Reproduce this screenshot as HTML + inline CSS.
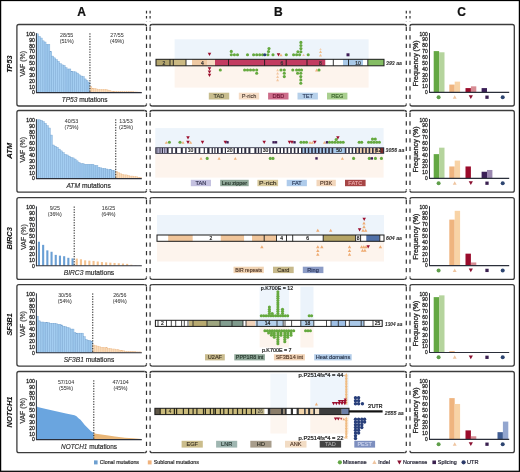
<!DOCTYPE html><html><head><meta charset="utf-8"><title>Figure</title><style>html,body{margin:0;padding:0;background:#fff;width:520px;height:472px;overflow:hidden;}body{font-family:"Liberation Sans", sans-serif;position:relative;}</style></head><body><svg width="520" height="472" viewBox="0 0 520 472" style="position:absolute;left:0;top:0;font-family:'Liberation Sans', sans-serif;filter:blur(0px)">
<rect x="0" y="0" width="520" height="472" fill="#ffffff"/>
<text x="81.5" y="15.6" font-size="12" text-anchor="middle" fill="#111" stroke="#111" stroke-width="0.22" font-weight="bold">A</text>
<text x="278.4" y="15.6" font-size="12" text-anchor="middle" fill="#111" stroke="#111" stroke-width="0.22" font-weight="bold">B</text>
<text x="461.6" y="15.6" font-size="12" text-anchor="middle" fill="#111" stroke="#111" stroke-width="0.22" font-weight="bold">C</text>
<path d="M144.5 24.5L18.9 24.5Q16.9 24.5 16.9 26.5L16.9 104.0Q16.9 106.0 18.9 106.0L144.5 106.0" fill="none" stroke="#3c3c3c" stroke-width="1.3"/>
<path d="M144.5 24.5Q146.5 24.5 146.5 26.3" fill="none" stroke="#3c3c3c" stroke-width="1.3"/>
<path d="M144.5 106.0Q146.5 106.0 146.5 104.2" fill="none" stroke="#3c3c3c" stroke-width="1.3"/>
<path d="M152.1 24.5Q150.1 24.5 150.1 26.3" fill="none" stroke="#3c3c3c" stroke-width="1.3"/>
<path d="M152.1 106.0Q150.1 106.0 150.1 104.2" fill="none" stroke="#3c3c3c" stroke-width="1.3"/>
<path d="M404.3 24.5Q406.3 24.5 406.3 26.3" fill="none" stroke="#3c3c3c" stroke-width="1.3"/>
<path d="M404.3 106.0Q406.3 106.0 406.3 104.2" fill="none" stroke="#3c3c3c" stroke-width="1.3"/>
<path d="M412 24.5Q410 24.5 410 26.3" fill="none" stroke="#3c3c3c" stroke-width="1.3"/>
<path d="M412 106.0Q410 106.0 410 104.2" fill="none" stroke="#3c3c3c" stroke-width="1.3"/>
<line x1="152.1" y1="24.5" x2="404.3" y2="24.5" stroke="#3c3c3c" stroke-width="1.3"/>
<line x1="152.1" y1="106" x2="404.3" y2="106" stroke="#3c3c3c" stroke-width="1.3"/>
<path d="M412.0 24.5L512.3 24.5Q514.3 24.5 514.3 26.5L514.3 104.0Q514.3 106.0 512.3 106.0L412.0 106.0" fill="none" stroke="#3c3c3c" stroke-width="1.3"/>
<path d="M144.5 110.5L18.9 110.5Q16.9 110.5 16.9 112.5L16.9 190.2Q16.9 192.2 18.9 192.2L144.5 192.2" fill="none" stroke="#3c3c3c" stroke-width="1.3"/>
<path d="M144.5 110.5Q146.5 110.5 146.5 112.3" fill="none" stroke="#3c3c3c" stroke-width="1.3"/>
<path d="M144.5 192.2Q146.5 192.2 146.5 190.39999999999998" fill="none" stroke="#3c3c3c" stroke-width="1.3"/>
<path d="M152.1 110.5Q150.1 110.5 150.1 112.3" fill="none" stroke="#3c3c3c" stroke-width="1.3"/>
<path d="M152.1 192.2Q150.1 192.2 150.1 190.39999999999998" fill="none" stroke="#3c3c3c" stroke-width="1.3"/>
<path d="M404.3 110.5Q406.3 110.5 406.3 112.3" fill="none" stroke="#3c3c3c" stroke-width="1.3"/>
<path d="M404.3 192.2Q406.3 192.2 406.3 190.39999999999998" fill="none" stroke="#3c3c3c" stroke-width="1.3"/>
<path d="M412 110.5Q410 110.5 410 112.3" fill="none" stroke="#3c3c3c" stroke-width="1.3"/>
<path d="M412 192.2Q410 192.2 410 190.39999999999998" fill="none" stroke="#3c3c3c" stroke-width="1.3"/>
<line x1="152.1" y1="110.5" x2="404.3" y2="110.5" stroke="#3c3c3c" stroke-width="1.3"/>
<line x1="152.1" y1="192.2" x2="404.3" y2="192.2" stroke="#3c3c3c" stroke-width="1.3"/>
<path d="M412.0 110.5L512.3 110.5Q514.3 110.5 514.3 112.5L514.3 190.2Q514.3 192.2 512.3 192.2L412.0 192.2" fill="none" stroke="#3c3c3c" stroke-width="1.3"/>
<path d="M144.5 197.7L18.9 197.7Q16.9 197.7 16.9 199.7L16.9 277.4Q16.9 279.4 18.9 279.4L144.5 279.4" fill="none" stroke="#3c3c3c" stroke-width="1.3"/>
<path d="M144.5 197.7Q146.5 197.7 146.5 199.5" fill="none" stroke="#3c3c3c" stroke-width="1.3"/>
<path d="M144.5 279.4Q146.5 279.4 146.5 277.59999999999997" fill="none" stroke="#3c3c3c" stroke-width="1.3"/>
<path d="M152.1 197.7Q150.1 197.7 150.1 199.5" fill="none" stroke="#3c3c3c" stroke-width="1.3"/>
<path d="M152.1 279.4Q150.1 279.4 150.1 277.59999999999997" fill="none" stroke="#3c3c3c" stroke-width="1.3"/>
<path d="M404.3 197.7Q406.3 197.7 406.3 199.5" fill="none" stroke="#3c3c3c" stroke-width="1.3"/>
<path d="M404.3 279.4Q406.3 279.4 406.3 277.59999999999997" fill="none" stroke="#3c3c3c" stroke-width="1.3"/>
<path d="M412 197.7Q410 197.7 410 199.5" fill="none" stroke="#3c3c3c" stroke-width="1.3"/>
<path d="M412 279.4Q410 279.4 410 277.59999999999997" fill="none" stroke="#3c3c3c" stroke-width="1.3"/>
<line x1="152.1" y1="197.7" x2="404.3" y2="197.7" stroke="#3c3c3c" stroke-width="1.3"/>
<line x1="152.1" y1="279.4" x2="404.3" y2="279.4" stroke="#3c3c3c" stroke-width="1.3"/>
<path d="M412.0 197.7L512.3 197.7Q514.3 197.7 514.3 199.7L514.3 277.4Q514.3 279.4 512.3 279.4L412.0 279.4" fill="none" stroke="#3c3c3c" stroke-width="1.3"/>
<path d="M144.5 284.6L18.9 284.6Q16.9 284.6 16.9 286.6L16.9 364.1Q16.9 366.1 18.9 366.1L144.5 366.1" fill="none" stroke="#3c3c3c" stroke-width="1.3"/>
<path d="M144.5 284.6Q146.5 284.6 146.5 286.40000000000003" fill="none" stroke="#3c3c3c" stroke-width="1.3"/>
<path d="M144.5 366.1Q146.5 366.1 146.5 364.3" fill="none" stroke="#3c3c3c" stroke-width="1.3"/>
<path d="M152.1 284.6Q150.1 284.6 150.1 286.40000000000003" fill="none" stroke="#3c3c3c" stroke-width="1.3"/>
<path d="M152.1 366.1Q150.1 366.1 150.1 364.3" fill="none" stroke="#3c3c3c" stroke-width="1.3"/>
<path d="M404.3 284.6Q406.3 284.6 406.3 286.40000000000003" fill="none" stroke="#3c3c3c" stroke-width="1.3"/>
<path d="M404.3 366.1Q406.3 366.1 406.3 364.3" fill="none" stroke="#3c3c3c" stroke-width="1.3"/>
<path d="M412 284.6Q410 284.6 410 286.40000000000003" fill="none" stroke="#3c3c3c" stroke-width="1.3"/>
<path d="M412 366.1Q410 366.1 410 364.3" fill="none" stroke="#3c3c3c" stroke-width="1.3"/>
<line x1="152.1" y1="284.6" x2="404.3" y2="284.6" stroke="#3c3c3c" stroke-width="1.3"/>
<line x1="152.1" y1="366.1" x2="404.3" y2="366.1" stroke="#3c3c3c" stroke-width="1.3"/>
<path d="M412.0 284.6L512.3 284.6Q514.3 284.6 514.3 286.6L514.3 364.1Q514.3 366.1 512.3 366.1L412.0 366.1" fill="none" stroke="#3c3c3c" stroke-width="1.3"/>
<path d="M144.5 371.5L18.9 371.5Q16.9 371.5 16.9 373.5L16.9 450.7Q16.9 452.7 18.9 452.7L144.5 452.7" fill="none" stroke="#3c3c3c" stroke-width="1.3"/>
<path d="M144.5 371.5Q146.5 371.5 146.5 373.3" fill="none" stroke="#3c3c3c" stroke-width="1.3"/>
<path d="M144.5 452.7Q146.5 452.7 146.5 450.9" fill="none" stroke="#3c3c3c" stroke-width="1.3"/>
<path d="M152.1 371.5Q150.1 371.5 150.1 373.3" fill="none" stroke="#3c3c3c" stroke-width="1.3"/>
<path d="M152.1 452.7Q150.1 452.7 150.1 450.9" fill="none" stroke="#3c3c3c" stroke-width="1.3"/>
<path d="M404.3 371.5Q406.3 371.5 406.3 373.3" fill="none" stroke="#3c3c3c" stroke-width="1.3"/>
<path d="M404.3 452.7Q406.3 452.7 406.3 450.9" fill="none" stroke="#3c3c3c" stroke-width="1.3"/>
<path d="M412 371.5Q410 371.5 410 373.3" fill="none" stroke="#3c3c3c" stroke-width="1.3"/>
<path d="M412 452.7Q410 452.7 410 450.9" fill="none" stroke="#3c3c3c" stroke-width="1.3"/>
<line x1="152.1" y1="371.5" x2="404.3" y2="371.5" stroke="#3c3c3c" stroke-width="1.3"/>
<line x1="152.1" y1="452.7" x2="404.3" y2="452.7" stroke="#3c3c3c" stroke-width="1.3"/>
<path d="M412.0 371.5L512.3 371.5Q514.3 371.5 514.3 373.5L514.3 450.7Q514.3 452.7 512.3 452.7L412.0 452.7" fill="none" stroke="#3c3c3c" stroke-width="1.3"/>
<line x1="146.5" y1="10.8" x2="146.5" y2="21.5" stroke="#333" stroke-width="1.2" stroke-dasharray="2.6 2.6"/>
<line x1="146.5" y1="26.7" x2="146.5" y2="103.8" stroke="#333" stroke-width="1.2" stroke-dasharray="4.4 4.1"/>
<line x1="146.5" y1="112.7" x2="146.5" y2="190" stroke="#333" stroke-width="1.2" stroke-dasharray="4.4 4.1"/>
<line x1="146.5" y1="199.9" x2="146.5" y2="277.2" stroke="#333" stroke-width="1.2" stroke-dasharray="4.4 4.1"/>
<line x1="146.5" y1="286.8" x2="146.5" y2="363.9" stroke="#333" stroke-width="1.2" stroke-dasharray="4.4 4.1"/>
<line x1="146.5" y1="373.7" x2="146.5" y2="450.5" stroke="#333" stroke-width="1.2" stroke-dasharray="4.4 4.1"/>
<line x1="150.1" y1="10.8" x2="150.1" y2="21.5" stroke="#333" stroke-width="1.2" stroke-dasharray="2.6 2.6"/>
<line x1="150.1" y1="26.7" x2="150.1" y2="103.8" stroke="#333" stroke-width="1.2" stroke-dasharray="4.4 4.1"/>
<line x1="150.1" y1="112.7" x2="150.1" y2="190" stroke="#333" stroke-width="1.2" stroke-dasharray="4.4 4.1"/>
<line x1="150.1" y1="199.9" x2="150.1" y2="277.2" stroke="#333" stroke-width="1.2" stroke-dasharray="4.4 4.1"/>
<line x1="150.1" y1="286.8" x2="150.1" y2="363.9" stroke="#333" stroke-width="1.2" stroke-dasharray="4.4 4.1"/>
<line x1="150.1" y1="373.7" x2="150.1" y2="450.5" stroke="#333" stroke-width="1.2" stroke-dasharray="4.4 4.1"/>
<line x1="406.3" y1="10.8" x2="406.3" y2="21.5" stroke="#333" stroke-width="1.2" stroke-dasharray="2.6 2.6"/>
<line x1="406.3" y1="26.7" x2="406.3" y2="103.8" stroke="#333" stroke-width="1.2" stroke-dasharray="4.4 4.1"/>
<line x1="406.3" y1="112.7" x2="406.3" y2="190" stroke="#333" stroke-width="1.2" stroke-dasharray="4.4 4.1"/>
<line x1="406.3" y1="199.9" x2="406.3" y2="277.2" stroke="#333" stroke-width="1.2" stroke-dasharray="4.4 4.1"/>
<line x1="406.3" y1="286.8" x2="406.3" y2="363.9" stroke="#333" stroke-width="1.2" stroke-dasharray="4.4 4.1"/>
<line x1="406.3" y1="373.7" x2="406.3" y2="450.5" stroke="#333" stroke-width="1.2" stroke-dasharray="4.4 4.1"/>
<line x1="410" y1="10.8" x2="410" y2="21.5" stroke="#333" stroke-width="1.2" stroke-dasharray="2.6 2.6"/>
<line x1="410" y1="26.7" x2="410" y2="103.8" stroke="#333" stroke-width="1.2" stroke-dasharray="4.4 4.1"/>
<line x1="410" y1="112.7" x2="410" y2="190" stroke="#333" stroke-width="1.2" stroke-dasharray="4.4 4.1"/>
<line x1="410" y1="199.9" x2="410" y2="277.2" stroke="#333" stroke-width="1.2" stroke-dasharray="4.4 4.1"/>
<line x1="410" y1="286.8" x2="410" y2="363.9" stroke="#333" stroke-width="1.2" stroke-dasharray="4.4 4.1"/>
<line x1="410" y1="373.7" x2="410" y2="450.5" stroke="#333" stroke-width="1.2" stroke-dasharray="4.4 4.1"/>
<text x="12" y="64.2" font-size="7.4" text-anchor="middle" fill="#111" stroke="#111" stroke-width="0.1" font-weight="bold" font-style="italic" textLength="17.2" lengthAdjust="spacingAndGlyphs" transform="rotate(-90 12 64.2)">TP53</text>
<text x="25.5" y="63.8" font-size="7" text-anchor="middle" fill="#333" stroke="#333" stroke-width="0.22" textLength="25.5" lengthAdjust="spacingAndGlyphs" transform="rotate(-90 25.5 63.8)">VAF (%)</text>
<text x="34.8" y="94.4" font-size="5.6" text-anchor="end" fill="#1e1e1e" stroke="#1e1e1e" stroke-width="0.28" textLength="2.8" lengthAdjust="spacingAndGlyphs">0</text>
<text x="34.8" y="88.54" font-size="5.6" text-anchor="end" fill="#1e1e1e" stroke="#1e1e1e" stroke-width="0.28" textLength="5.6" lengthAdjust="spacingAndGlyphs">10</text>
<text x="34.8" y="82.68" font-size="5.6" text-anchor="end" fill="#1e1e1e" stroke="#1e1e1e" stroke-width="0.28" textLength="5.6" lengthAdjust="spacingAndGlyphs">20</text>
<text x="34.8" y="76.82" font-size="5.6" text-anchor="end" fill="#1e1e1e" stroke="#1e1e1e" stroke-width="0.28" textLength="5.6" lengthAdjust="spacingAndGlyphs">30</text>
<text x="34.8" y="70.96" font-size="5.6" text-anchor="end" fill="#1e1e1e" stroke="#1e1e1e" stroke-width="0.28" textLength="5.6" lengthAdjust="spacingAndGlyphs">40</text>
<text x="34.8" y="65.1" font-size="5.6" text-anchor="end" fill="#1e1e1e" stroke="#1e1e1e" stroke-width="0.28" textLength="5.6" lengthAdjust="spacingAndGlyphs">50</text>
<text x="34.8" y="59.24" font-size="5.6" text-anchor="end" fill="#1e1e1e" stroke="#1e1e1e" stroke-width="0.28" textLength="5.6" lengthAdjust="spacingAndGlyphs">60</text>
<text x="34.8" y="53.38" font-size="5.6" text-anchor="end" fill="#1e1e1e" stroke="#1e1e1e" stroke-width="0.28" textLength="5.6" lengthAdjust="spacingAndGlyphs">70</text>
<text x="34.8" y="47.52" font-size="5.6" text-anchor="end" fill="#1e1e1e" stroke="#1e1e1e" stroke-width="0.28" textLength="5.6" lengthAdjust="spacingAndGlyphs">80</text>
<text x="34.8" y="41.66" font-size="5.6" text-anchor="end" fill="#1e1e1e" stroke="#1e1e1e" stroke-width="0.28" textLength="5.6" lengthAdjust="spacingAndGlyphs">90</text>
<text x="34.8" y="35.8" font-size="5.6" text-anchor="end" fill="#1e1e1e" stroke="#1e1e1e" stroke-width="0.28" textLength="8.5" lengthAdjust="spacingAndGlyphs">100</text>
<rect x="36.5" y="33.8" width="1.91" height="58.6" fill="#a3cdf1" stroke="#76a3cf" stroke-width="0.4"/>
<rect x="38.41" y="36.44" width="1.91" height="55.96" fill="#a3cdf1" stroke="#76a3cf" stroke-width="0.4"/>
<rect x="40.32" y="38.02" width="1.91" height="54.38" fill="#a3cdf1" stroke="#76a3cf" stroke-width="0.4"/>
<rect x="42.23" y="40.83" width="1.91" height="51.57" fill="#a3cdf1" stroke="#76a3cf" stroke-width="0.4"/>
<rect x="44.14" y="42" width="1.91" height="50.4" fill="#a3cdf1" stroke="#76a3cf" stroke-width="0.4"/>
<rect x="46.05" y="44.35" width="1.91" height="48.05" fill="#a3cdf1" stroke="#76a3cf" stroke-width="0.4"/>
<rect x="47.95" y="44.35" width="1.91" height="48.05" fill="#a3cdf1" stroke="#76a3cf" stroke-width="0.4"/>
<rect x="49.86" y="51.38" width="1.91" height="41.02" fill="#a3cdf1" stroke="#76a3cf" stroke-width="0.4"/>
<rect x="51.77" y="56.07" width="1.91" height="36.33" fill="#a3cdf1" stroke="#76a3cf" stroke-width="0.4"/>
<rect x="53.68" y="57.83" width="1.91" height="34.57" fill="#a3cdf1" stroke="#76a3cf" stroke-width="0.4"/>
<rect x="55.59" y="59.58" width="1.91" height="32.82" fill="#a3cdf1" stroke="#76a3cf" stroke-width="0.4"/>
<rect x="57.5" y="61.34" width="1.91" height="31.06" fill="#a3cdf1" stroke="#76a3cf" stroke-width="0.4"/>
<rect x="59.41" y="63.69" width="1.91" height="28.71" fill="#a3cdf1" stroke="#76a3cf" stroke-width="0.4"/>
<rect x="61.32" y="64.86" width="1.91" height="27.54" fill="#a3cdf1" stroke="#76a3cf" stroke-width="0.4"/>
<rect x="63.23" y="65.44" width="1.91" height="26.96" fill="#a3cdf1" stroke="#76a3cf" stroke-width="0.4"/>
<rect x="65.14" y="67.79" width="1.91" height="24.61" fill="#a3cdf1" stroke="#76a3cf" stroke-width="0.4"/>
<rect x="67.05" y="68.96" width="1.91" height="23.44" fill="#a3cdf1" stroke="#76a3cf" stroke-width="0.4"/>
<rect x="68.95" y="68.96" width="1.91" height="23.44" fill="#a3cdf1" stroke="#76a3cf" stroke-width="0.4"/>
<rect x="70.86" y="71.3" width="1.91" height="21.1" fill="#a3cdf1" stroke="#76a3cf" stroke-width="0.4"/>
<rect x="72.77" y="71.6" width="1.91" height="20.8" fill="#a3cdf1" stroke="#76a3cf" stroke-width="0.4"/>
<rect x="74.68" y="71.89" width="1.91" height="20.51" fill="#a3cdf1" stroke="#76a3cf" stroke-width="0.4"/>
<rect x="76.59" y="73.06" width="1.91" height="19.34" fill="#a3cdf1" stroke="#76a3cf" stroke-width="0.4"/>
<rect x="78.5" y="74.82" width="1.91" height="17.58" fill="#a3cdf1" stroke="#76a3cf" stroke-width="0.4"/>
<rect x="80.41" y="75.99" width="1.91" height="16.41" fill="#a3cdf1" stroke="#76a3cf" stroke-width="0.4"/>
<rect x="82.32" y="76.58" width="1.91" height="15.82" fill="#a3cdf1" stroke="#76a3cf" stroke-width="0.4"/>
<rect x="84.23" y="78.92" width="1.91" height="13.48" fill="#a3cdf1" stroke="#76a3cf" stroke-width="0.4"/>
<rect x="86.14" y="80.68" width="1.91" height="11.72" fill="#a3cdf1" stroke="#76a3cf" stroke-width="0.4"/>
<rect x="88.05" y="82.44" width="1.91" height="9.96" fill="#a3cdf1" stroke="#76a3cf" stroke-width="0.4"/>
<rect x="89.95" y="86.54" width="1.91" height="5.86" fill="#f9dcbb" stroke="#ecb887" stroke-width="0.35"/>
<rect x="91.86" y="88.3" width="1.91" height="4.1" fill="#f9dcbb" stroke="#ecb887" stroke-width="0.35"/>
<rect x="93.77" y="88.3" width="1.91" height="4.1" fill="#f9dcbb" stroke="#ecb887" stroke-width="0.35"/>
<rect x="95.68" y="88.88" width="1.91" height="3.52" fill="#f9dcbb" stroke="#ecb887" stroke-width="0.35"/>
<rect x="97.59" y="89.47" width="1.91" height="2.93" fill="#f9dcbb" stroke="#ecb887" stroke-width="0.35"/>
<rect x="99.5" y="89.47" width="1.91" height="2.93" fill="#f9dcbb" stroke="#ecb887" stroke-width="0.35"/>
<rect x="101.41" y="89.47" width="1.91" height="2.93" fill="#f9dcbb" stroke="#ecb887" stroke-width="0.35"/>
<rect x="103.32" y="89.47" width="1.91" height="2.93" fill="#f9dcbb" stroke="#ecb887" stroke-width="0.35"/>
<rect x="105.23" y="89.47" width="1.91" height="2.93" fill="#f9dcbb" stroke="#ecb887" stroke-width="0.35"/>
<rect x="107.14" y="90.06" width="1.91" height="2.34" fill="#f9dcbb" stroke="#ecb887" stroke-width="0.35"/>
<rect x="109.05" y="90.64" width="1.91" height="1.76" fill="#f9dcbb" stroke="#ecb887" stroke-width="0.35"/>
<rect x="110.95" y="91.23" width="1.91" height="1.17" fill="#f9dcbb" stroke="#ecb887" stroke-width="0.35"/>
<rect x="112.86" y="91.23" width="1.91" height="1.17" fill="#f9dcbb" stroke="#ecb887" stroke-width="0.35"/>
<rect x="114.77" y="91.23" width="1.91" height="1.17" fill="#f9dcbb" stroke="#ecb887" stroke-width="0.35"/>
<rect x="116.68" y="91.52" width="1.91" height="0.88" fill="#f9dcbb" stroke="#ecb887" stroke-width="0.35"/>
<rect x="118.59" y="91.52" width="1.91" height="0.88" fill="#f9dcbb" stroke="#ecb887" stroke-width="0.35"/>
<rect x="120.5" y="91.52" width="1.91" height="0.88" fill="#f9dcbb" stroke="#ecb887" stroke-width="0.35"/>
<rect x="122.41" y="91.7" width="1.91" height="0.7" fill="#f9dcbb" stroke="#ecb887" stroke-width="0.35"/>
<rect x="124.32" y="91.7" width="1.91" height="0.7" fill="#f9dcbb" stroke="#ecb887" stroke-width="0.35"/>
<rect x="126.23" y="91.81" width="1.91" height="0.59" fill="#f9dcbb" stroke="#ecb887" stroke-width="0.35"/>
<rect x="128.14" y="91.81" width="1.91" height="0.59" fill="#f9dcbb" stroke="#ecb887" stroke-width="0.35"/>
<rect x="130.05" y="91.81" width="1.91" height="0.59" fill="#f9dcbb" stroke="#ecb887" stroke-width="0.35"/>
<rect x="131.95" y="91.81" width="1.91" height="0.59" fill="#f9dcbb" stroke="#ecb887" stroke-width="0.35"/>
<rect x="133.86" y="91.93" width="1.91" height="0.47" fill="#f9dcbb" stroke="#ecb887" stroke-width="0.35"/>
<rect x="135.77" y="91.93" width="1.91" height="0.47" fill="#f9dcbb" stroke="#ecb887" stroke-width="0.35"/>
<rect x="137.68" y="92.05" width="1.91" height="0.35" fill="#f9dcbb" stroke="#ecb887" stroke-width="0.35"/>
<rect x="139.59" y="92.11" width="1.91" height="0.29" fill="#f9dcbb" stroke="#ecb887" stroke-width="0.35"/>
<line x1="36.4" y1="33.2" x2="36.4" y2="92.9" stroke="#2b2f3a" stroke-width="1"/>
<line x1="36" y1="92.6" x2="141.8" y2="92.6" stroke="#2b2f3a" stroke-width="1.1"/>
<line x1="89.95" y1="33.3" x2="89.95" y2="92.4" stroke="#222" stroke-width="1" stroke-dasharray="1.3 1.3"/>
<text x="66.7" y="36.8" font-size="5.3" text-anchor="middle" fill="#3a3a3a" stroke="#3a3a3a" stroke-width="0.05">28/55</text>
<text x="66.7" y="43.1" font-size="5.3" text-anchor="middle" fill="#3a3a3a" stroke="#3a3a3a" stroke-width="0.05">(51%)</text>
<text x="117" y="36.8" font-size="5.3" text-anchor="middle" fill="#3a3a3a" stroke="#3a3a3a" stroke-width="0.05">27/55</text>
<text x="117" y="43.1" font-size="5.3" text-anchor="middle" fill="#3a3a3a" stroke="#3a3a3a" stroke-width="0.05">(49%)</text>
<text x="84.6" y="101.8" font-size="7.8" text-anchor="middle" fill="#2a2a2a" stroke="#2a2a2a" stroke-width="0.2" textLength="45.8" lengthAdjust="spacingAndGlyphs"><tspan font-style="italic" stroke-width="0.15">TP53</tspan> mutations</text>
<text x="12" y="150.75" font-size="7.4" text-anchor="middle" fill="#111" stroke="#111" stroke-width="0.1" font-weight="bold" font-style="italic" textLength="16.1" lengthAdjust="spacingAndGlyphs" transform="rotate(-90 12 150.75)">ATM</text>
<text x="25.5" y="149.8" font-size="7" text-anchor="middle" fill="#333" stroke="#333" stroke-width="0.22" textLength="25.5" lengthAdjust="spacingAndGlyphs" transform="rotate(-90 25.5 149.8)">VAF (%)</text>
<text x="34.8" y="180.4" font-size="5.6" text-anchor="end" fill="#1e1e1e" stroke="#1e1e1e" stroke-width="0.28" textLength="2.8" lengthAdjust="spacingAndGlyphs">0</text>
<text x="34.8" y="174.54" font-size="5.6" text-anchor="end" fill="#1e1e1e" stroke="#1e1e1e" stroke-width="0.28" textLength="5.6" lengthAdjust="spacingAndGlyphs">10</text>
<text x="34.8" y="168.68" font-size="5.6" text-anchor="end" fill="#1e1e1e" stroke="#1e1e1e" stroke-width="0.28" textLength="5.6" lengthAdjust="spacingAndGlyphs">20</text>
<text x="34.8" y="162.82" font-size="5.6" text-anchor="end" fill="#1e1e1e" stroke="#1e1e1e" stroke-width="0.28" textLength="5.6" lengthAdjust="spacingAndGlyphs">30</text>
<text x="34.8" y="156.96" font-size="5.6" text-anchor="end" fill="#1e1e1e" stroke="#1e1e1e" stroke-width="0.28" textLength="5.6" lengthAdjust="spacingAndGlyphs">40</text>
<text x="34.8" y="151.1" font-size="5.6" text-anchor="end" fill="#1e1e1e" stroke="#1e1e1e" stroke-width="0.28" textLength="5.6" lengthAdjust="spacingAndGlyphs">50</text>
<text x="34.8" y="145.24" font-size="5.6" text-anchor="end" fill="#1e1e1e" stroke="#1e1e1e" stroke-width="0.28" textLength="5.6" lengthAdjust="spacingAndGlyphs">60</text>
<text x="34.8" y="139.38" font-size="5.6" text-anchor="end" fill="#1e1e1e" stroke="#1e1e1e" stroke-width="0.28" textLength="5.6" lengthAdjust="spacingAndGlyphs">70</text>
<text x="34.8" y="133.52" font-size="5.6" text-anchor="end" fill="#1e1e1e" stroke="#1e1e1e" stroke-width="0.28" textLength="5.6" lengthAdjust="spacingAndGlyphs">80</text>
<text x="34.8" y="127.66" font-size="5.6" text-anchor="end" fill="#1e1e1e" stroke="#1e1e1e" stroke-width="0.28" textLength="5.6" lengthAdjust="spacingAndGlyphs">90</text>
<text x="34.8" y="121.8" font-size="5.6" text-anchor="end" fill="#1e1e1e" stroke="#1e1e1e" stroke-width="0.28" textLength="8.5" lengthAdjust="spacingAndGlyphs">100</text>
<rect x="36.5" y="119.8" width="1.98" height="58.6" fill="#a3cdf1" stroke="#76a3cf" stroke-width="0.4"/>
<rect x="38.48" y="119.8" width="1.98" height="58.6" fill="#a3cdf1" stroke="#76a3cf" stroke-width="0.4"/>
<rect x="40.46" y="120.39" width="1.98" height="58.01" fill="#a3cdf1" stroke="#76a3cf" stroke-width="0.4"/>
<rect x="42.44" y="121.56" width="1.98" height="56.84" fill="#a3cdf1" stroke="#76a3cf" stroke-width="0.4"/>
<rect x="44.42" y="123.32" width="1.98" height="55.08" fill="#a3cdf1" stroke="#76a3cf" stroke-width="0.4"/>
<rect x="46.41" y="125.66" width="1.98" height="52.74" fill="#a3cdf1" stroke="#76a3cf" stroke-width="0.4"/>
<rect x="48.39" y="128" width="1.98" height="50.4" fill="#a3cdf1" stroke="#76a3cf" stroke-width="0.4"/>
<rect x="50.37" y="135.04" width="1.98" height="43.36" fill="#a3cdf1" stroke="#76a3cf" stroke-width="0.4"/>
<rect x="52.35" y="145" width="1.98" height="33.4" fill="#a3cdf1" stroke="#76a3cf" stroke-width="0.4"/>
<rect x="54.33" y="146.17" width="1.98" height="32.23" fill="#a3cdf1" stroke="#76a3cf" stroke-width="0.4"/>
<rect x="56.31" y="147.34" width="1.98" height="31.06" fill="#a3cdf1" stroke="#76a3cf" stroke-width="0.4"/>
<rect x="58.29" y="149.1" width="1.98" height="29.3" fill="#a3cdf1" stroke="#76a3cf" stroke-width="0.4"/>
<rect x="60.27" y="150.86" width="1.98" height="27.54" fill="#a3cdf1" stroke="#76a3cf" stroke-width="0.4"/>
<rect x="62.25" y="152.62" width="1.98" height="25.78" fill="#a3cdf1" stroke="#76a3cf" stroke-width="0.4"/>
<rect x="64.24" y="154.37" width="1.98" height="24.03" fill="#a3cdf1" stroke="#76a3cf" stroke-width="0.4"/>
<rect x="66.22" y="154.96" width="1.98" height="23.44" fill="#a3cdf1" stroke="#76a3cf" stroke-width="0.4"/>
<rect x="68.2" y="156.13" width="1.98" height="22.27" fill="#a3cdf1" stroke="#76a3cf" stroke-width="0.4"/>
<rect x="70.18" y="157.3" width="1.98" height="21.1" fill="#a3cdf1" stroke="#76a3cf" stroke-width="0.4"/>
<rect x="72.16" y="157.89" width="1.98" height="20.51" fill="#a3cdf1" stroke="#76a3cf" stroke-width="0.4"/>
<rect x="74.14" y="159.06" width="1.98" height="19.34" fill="#a3cdf1" stroke="#76a3cf" stroke-width="0.4"/>
<rect x="76.12" y="160.82" width="1.98" height="17.58" fill="#a3cdf1" stroke="#76a3cf" stroke-width="0.4"/>
<rect x="78.1" y="162.58" width="1.98" height="15.82" fill="#a3cdf1" stroke="#76a3cf" stroke-width="0.4"/>
<rect x="80.08" y="163.75" width="1.98" height="14.65" fill="#a3cdf1" stroke="#76a3cf" stroke-width="0.4"/>
<rect x="82.07" y="163.75" width="1.98" height="14.65" fill="#a3cdf1" stroke="#76a3cf" stroke-width="0.4"/>
<rect x="84.05" y="164.34" width="1.98" height="14.06" fill="#a3cdf1" stroke="#76a3cf" stroke-width="0.4"/>
<rect x="86.03" y="164.34" width="1.98" height="14.06" fill="#a3cdf1" stroke="#76a3cf" stroke-width="0.4"/>
<rect x="88.01" y="164.34" width="1.98" height="14.06" fill="#a3cdf1" stroke="#76a3cf" stroke-width="0.4"/>
<rect x="89.99" y="164.34" width="1.98" height="14.06" fill="#a3cdf1" stroke="#76a3cf" stroke-width="0.4"/>
<rect x="91.97" y="164.34" width="1.98" height="14.06" fill="#a3cdf1" stroke="#76a3cf" stroke-width="0.4"/>
<rect x="93.95" y="165.51" width="1.98" height="12.89" fill="#a3cdf1" stroke="#76a3cf" stroke-width="0.4"/>
<rect x="95.93" y="165.51" width="1.98" height="12.89" fill="#a3cdf1" stroke="#76a3cf" stroke-width="0.4"/>
<rect x="97.92" y="167.27" width="1.98" height="11.13" fill="#a3cdf1" stroke="#76a3cf" stroke-width="0.4"/>
<rect x="99.9" y="167.85" width="1.98" height="10.55" fill="#a3cdf1" stroke="#76a3cf" stroke-width="0.4"/>
<rect x="101.88" y="168.44" width="1.98" height="9.96" fill="#a3cdf1" stroke="#76a3cf" stroke-width="0.4"/>
<rect x="103.86" y="168.44" width="1.98" height="9.96" fill="#a3cdf1" stroke="#76a3cf" stroke-width="0.4"/>
<rect x="105.84" y="169.02" width="1.98" height="9.38" fill="#a3cdf1" stroke="#76a3cf" stroke-width="0.4"/>
<rect x="107.82" y="169.61" width="1.98" height="8.79" fill="#a3cdf1" stroke="#76a3cf" stroke-width="0.4"/>
<rect x="109.8" y="169.61" width="1.98" height="8.79" fill="#a3cdf1" stroke="#76a3cf" stroke-width="0.4"/>
<rect x="111.78" y="170.2" width="1.98" height="8.2" fill="#a3cdf1" stroke="#76a3cf" stroke-width="0.4"/>
<rect x="113.76" y="170.78" width="1.98" height="7.62" fill="#a3cdf1" stroke="#76a3cf" stroke-width="0.4"/>
<rect x="115.75" y="171.37" width="1.98" height="7.03" fill="#f9dcbb" stroke="#ecb887" stroke-width="0.35"/>
<rect x="117.73" y="172.54" width="1.98" height="5.86" fill="#f9dcbb" stroke="#ecb887" stroke-width="0.35"/>
<rect x="119.71" y="173.71" width="1.98" height="4.69" fill="#f9dcbb" stroke="#ecb887" stroke-width="0.35"/>
<rect x="121.69" y="174.3" width="1.98" height="4.1" fill="#f9dcbb" stroke="#ecb887" stroke-width="0.35"/>
<rect x="123.67" y="174.88" width="1.98" height="3.52" fill="#f9dcbb" stroke="#ecb887" stroke-width="0.35"/>
<rect x="125.65" y="174.88" width="1.98" height="3.52" fill="#f9dcbb" stroke="#ecb887" stroke-width="0.35"/>
<rect x="127.63" y="175.47" width="1.98" height="2.93" fill="#f9dcbb" stroke="#ecb887" stroke-width="0.35"/>
<rect x="129.61" y="176.06" width="1.98" height="2.34" fill="#f9dcbb" stroke="#ecb887" stroke-width="0.35"/>
<rect x="131.59" y="176.06" width="1.98" height="2.34" fill="#f9dcbb" stroke="#ecb887" stroke-width="0.35"/>
<rect x="133.58" y="176.64" width="1.98" height="1.76" fill="#f9dcbb" stroke="#ecb887" stroke-width="0.35"/>
<rect x="135.56" y="176.64" width="1.98" height="1.76" fill="#f9dcbb" stroke="#ecb887" stroke-width="0.35"/>
<rect x="137.54" y="177.23" width="1.98" height="1.17" fill="#f9dcbb" stroke="#ecb887" stroke-width="0.35"/>
<rect x="139.52" y="177.23" width="1.98" height="1.17" fill="#f9dcbb" stroke="#ecb887" stroke-width="0.35"/>
<line x1="36.4" y1="119.2" x2="36.4" y2="178.9" stroke="#2b2f3a" stroke-width="1"/>
<line x1="36" y1="178.6" x2="141.8" y2="178.6" stroke="#2b2f3a" stroke-width="1.1"/>
<line x1="115.75" y1="119.3" x2="115.75" y2="178.4" stroke="#222" stroke-width="1" stroke-dasharray="1.3 1.3"/>
<text x="71.5" y="122.8" font-size="5.3" text-anchor="middle" fill="#3a3a3a" stroke="#3a3a3a" stroke-width="0.05">40/53</text>
<text x="71.5" y="129.1" font-size="5.3" text-anchor="middle" fill="#3a3a3a" stroke="#3a3a3a" stroke-width="0.05">(75%)</text>
<text x="126" y="122.8" font-size="5.3" text-anchor="middle" fill="#3a3a3a" stroke="#3a3a3a" stroke-width="0.05">13/53</text>
<text x="126" y="129.1" font-size="5.3" text-anchor="middle" fill="#3a3a3a" stroke="#3a3a3a" stroke-width="0.05">(25%)</text>
<text x="88.65" y="187.8" font-size="7.8" text-anchor="middle" fill="#2a2a2a" stroke="#2a2a2a" stroke-width="0.2" textLength="44.5" lengthAdjust="spacingAndGlyphs"><tspan font-style="italic" stroke-width="0.15">ATM</tspan> mutations</text>
<text x="12" y="238.3" font-size="7.4" text-anchor="middle" fill="#111" stroke="#111" stroke-width="0.1" font-weight="bold" font-style="italic" textLength="22.2" lengthAdjust="spacingAndGlyphs" transform="rotate(-90 12 238.3)">BIRC3</text>
<text x="25.5" y="237" font-size="7" text-anchor="middle" fill="#333" stroke="#333" stroke-width="0.22" textLength="25.5" lengthAdjust="spacingAndGlyphs" transform="rotate(-90 25.5 237)">VAF (%)</text>
<text x="34.8" y="267.6" font-size="5.6" text-anchor="end" fill="#1e1e1e" stroke="#1e1e1e" stroke-width="0.28" textLength="2.8" lengthAdjust="spacingAndGlyphs">0</text>
<text x="34.8" y="261.74" font-size="5.6" text-anchor="end" fill="#1e1e1e" stroke="#1e1e1e" stroke-width="0.28" textLength="5.6" lengthAdjust="spacingAndGlyphs">10</text>
<text x="34.8" y="255.88" font-size="5.6" text-anchor="end" fill="#1e1e1e" stroke="#1e1e1e" stroke-width="0.28" textLength="5.6" lengthAdjust="spacingAndGlyphs">20</text>
<text x="34.8" y="250.02" font-size="5.6" text-anchor="end" fill="#1e1e1e" stroke="#1e1e1e" stroke-width="0.28" textLength="5.6" lengthAdjust="spacingAndGlyphs">30</text>
<text x="34.8" y="244.16" font-size="5.6" text-anchor="end" fill="#1e1e1e" stroke="#1e1e1e" stroke-width="0.28" textLength="5.6" lengthAdjust="spacingAndGlyphs">40</text>
<text x="34.8" y="238.3" font-size="5.6" text-anchor="end" fill="#1e1e1e" stroke="#1e1e1e" stroke-width="0.28" textLength="5.6" lengthAdjust="spacingAndGlyphs">50</text>
<text x="34.8" y="232.44" font-size="5.6" text-anchor="end" fill="#1e1e1e" stroke="#1e1e1e" stroke-width="0.28" textLength="5.6" lengthAdjust="spacingAndGlyphs">60</text>
<text x="34.8" y="226.58" font-size="5.6" text-anchor="end" fill="#1e1e1e" stroke="#1e1e1e" stroke-width="0.28" textLength="5.6" lengthAdjust="spacingAndGlyphs">70</text>
<text x="34.8" y="220.72" font-size="5.6" text-anchor="end" fill="#1e1e1e" stroke="#1e1e1e" stroke-width="0.28" textLength="5.6" lengthAdjust="spacingAndGlyphs">80</text>
<text x="34.8" y="214.86" font-size="5.6" text-anchor="end" fill="#1e1e1e" stroke="#1e1e1e" stroke-width="0.28" textLength="5.6" lengthAdjust="spacingAndGlyphs">90</text>
<text x="34.8" y="209" font-size="5.6" text-anchor="end" fill="#1e1e1e" stroke="#1e1e1e" stroke-width="0.28" textLength="8.5" lengthAdjust="spacingAndGlyphs">100</text>
<rect x="37.9" y="241.75" width="2.1" height="23.85" fill="#6a9fd4"/>
<rect x="42.1" y="244.86" width="2.1" height="20.74" fill="#6a9fd4"/>
<rect x="46.3" y="250.36" width="2.1" height="15.24" fill="#6a9fd4"/>
<rect x="50.5" y="251.77" width="2.1" height="13.83" fill="#6a9fd4"/>
<rect x="54.7" y="254.88" width="2.1" height="10.72" fill="#6a9fd4"/>
<rect x="58.9" y="255.64" width="2.1" height="9.96" fill="#6a9fd4"/>
<rect x="63.1" y="256.22" width="2.1" height="9.38" fill="#6a9fd4"/>
<rect x="67.3" y="257.81" width="2.1" height="7.79" fill="#6a9fd4"/>
<rect x="71.5" y="258.39" width="2.1" height="7.21" fill="#6a9fd4"/>
<rect x="75.7" y="258.57" width="2.1" height="7.03" fill="#f4c28f"/>
<rect x="79.9" y="259.27" width="2.1" height="6.33" fill="#f4c28f"/>
<rect x="84.1" y="260.33" width="2.1" height="5.27" fill="#f4c28f"/>
<rect x="88.3" y="260.68" width="2.1" height="4.92" fill="#f4c28f"/>
<rect x="92.5" y="260.91" width="2.1" height="4.69" fill="#f4c28f"/>
<rect x="96.7" y="261.5" width="2.1" height="4.1" fill="#f4c28f"/>
<rect x="100.9" y="262.08" width="2.1" height="3.52" fill="#f4c28f"/>
<rect x="105.1" y="262.38" width="2.1" height="3.22" fill="#f4c28f"/>
<rect x="109.3" y="262.67" width="2.1" height="2.93" fill="#f4c28f"/>
<rect x="113.5" y="262.96" width="2.1" height="2.64" fill="#f4c28f"/>
<rect x="117.7" y="263.26" width="2.1" height="2.34" fill="#f4c28f"/>
<rect x="121.9" y="263.55" width="2.1" height="2.05" fill="#f4c28f"/>
<rect x="126.1" y="263.84" width="2.1" height="1.76" fill="#f4c28f"/>
<rect x="130.3" y="264.72" width="2.1" height="0.88" fill="#f4c28f"/>
<rect x="134.5" y="265.13" width="2.1" height="0.47" fill="#f4c28f"/>
<rect x="138.7" y="265.31" width="2.1" height="0.29" fill="#f4c28f"/>
<line x1="36.4" y1="206.4" x2="36.4" y2="266.1" stroke="#2b2f3a" stroke-width="1"/>
<line x1="36" y1="265.8" x2="141.8" y2="265.8" stroke="#2b2f3a" stroke-width="1.1"/>
<line x1="74.2" y1="206.5" x2="74.2" y2="265.6" stroke="#222" stroke-width="1" stroke-dasharray="1.3 1.3"/>
<text x="54.8" y="210" font-size="5.3" text-anchor="middle" fill="#3a3a3a" stroke="#3a3a3a" stroke-width="0.05">9/25</text>
<text x="54.8" y="216.3" font-size="5.3" text-anchor="middle" fill="#3a3a3a" stroke="#3a3a3a" stroke-width="0.05">(36%)</text>
<text x="108.5" y="210" font-size="5.3" text-anchor="middle" fill="#3a3a3a" stroke="#3a3a3a" stroke-width="0.05">16/25</text>
<text x="108.5" y="216.3" font-size="5.3" text-anchor="middle" fill="#3a3a3a" stroke="#3a3a3a" stroke-width="0.05">(64%)</text>
<text x="88.95" y="275" font-size="7.8" text-anchor="middle" fill="#2a2a2a" stroke="#2a2a2a" stroke-width="0.2" textLength="50.5" lengthAdjust="spacingAndGlyphs"><tspan font-style="italic" stroke-width="0.15">BIRC3</tspan> mutations</text>
<text x="12" y="324.4" font-size="7.4" text-anchor="middle" fill="#111" stroke="#111" stroke-width="0.1" font-weight="bold" font-style="italic" textLength="22.3" lengthAdjust="spacingAndGlyphs" transform="rotate(-90 12 324.4)">SF3B1</text>
<text x="25.5" y="323.9" font-size="7" text-anchor="middle" fill="#333" stroke="#333" stroke-width="0.22" textLength="25.5" lengthAdjust="spacingAndGlyphs" transform="rotate(-90 25.5 323.9)">VAF (%)</text>
<text x="34.8" y="354.5" font-size="5.6" text-anchor="end" fill="#1e1e1e" stroke="#1e1e1e" stroke-width="0.28" textLength="2.8" lengthAdjust="spacingAndGlyphs">0</text>
<text x="34.8" y="348.64" font-size="5.6" text-anchor="end" fill="#1e1e1e" stroke="#1e1e1e" stroke-width="0.28" textLength="5.6" lengthAdjust="spacingAndGlyphs">10</text>
<text x="34.8" y="342.78" font-size="5.6" text-anchor="end" fill="#1e1e1e" stroke="#1e1e1e" stroke-width="0.28" textLength="5.6" lengthAdjust="spacingAndGlyphs">20</text>
<text x="34.8" y="336.92" font-size="5.6" text-anchor="end" fill="#1e1e1e" stroke="#1e1e1e" stroke-width="0.28" textLength="5.6" lengthAdjust="spacingAndGlyphs">30</text>
<text x="34.8" y="331.06" font-size="5.6" text-anchor="end" fill="#1e1e1e" stroke="#1e1e1e" stroke-width="0.28" textLength="5.6" lengthAdjust="spacingAndGlyphs">40</text>
<text x="34.8" y="325.2" font-size="5.6" text-anchor="end" fill="#1e1e1e" stroke="#1e1e1e" stroke-width="0.28" textLength="5.6" lengthAdjust="spacingAndGlyphs">50</text>
<text x="34.8" y="319.34" font-size="5.6" text-anchor="end" fill="#1e1e1e" stroke="#1e1e1e" stroke-width="0.28" textLength="5.6" lengthAdjust="spacingAndGlyphs">60</text>
<text x="34.8" y="313.48" font-size="5.6" text-anchor="end" fill="#1e1e1e" stroke="#1e1e1e" stroke-width="0.28" textLength="5.6" lengthAdjust="spacingAndGlyphs">70</text>
<text x="34.8" y="307.62" font-size="5.6" text-anchor="end" fill="#1e1e1e" stroke="#1e1e1e" stroke-width="0.28" textLength="5.6" lengthAdjust="spacingAndGlyphs">80</text>
<text x="34.8" y="301.76" font-size="5.6" text-anchor="end" fill="#1e1e1e" stroke="#1e1e1e" stroke-width="0.28" textLength="5.6" lengthAdjust="spacingAndGlyphs">90</text>
<text x="34.8" y="295.9" font-size="5.6" text-anchor="end" fill="#1e1e1e" stroke="#1e1e1e" stroke-width="0.28" textLength="8.5" lengthAdjust="spacingAndGlyphs">100</text>
<rect x="36.5" y="316.17" width="1.88" height="36.33" fill="#a3cdf1" stroke="#76a3cf" stroke-width="0.4"/>
<rect x="38.38" y="320.86" width="1.88" height="31.64" fill="#a3cdf1" stroke="#76a3cf" stroke-width="0.4"/>
<rect x="40.25" y="322.03" width="1.88" height="30.47" fill="#a3cdf1" stroke="#76a3cf" stroke-width="0.4"/>
<rect x="42.12" y="322.03" width="1.88" height="30.47" fill="#a3cdf1" stroke="#76a3cf" stroke-width="0.4"/>
<rect x="44" y="322.61" width="1.88" height="29.89" fill="#a3cdf1" stroke="#76a3cf" stroke-width="0.4"/>
<rect x="45.88" y="322.61" width="1.88" height="29.89" fill="#a3cdf1" stroke="#76a3cf" stroke-width="0.4"/>
<rect x="47.75" y="322.61" width="1.88" height="29.89" fill="#a3cdf1" stroke="#76a3cf" stroke-width="0.4"/>
<rect x="49.62" y="323.2" width="1.88" height="29.3" fill="#a3cdf1" stroke="#76a3cf" stroke-width="0.4"/>
<rect x="51.5" y="323.2" width="1.88" height="29.3" fill="#a3cdf1" stroke="#76a3cf" stroke-width="0.4"/>
<rect x="53.38" y="323.2" width="1.88" height="29.3" fill="#a3cdf1" stroke="#76a3cf" stroke-width="0.4"/>
<rect x="55.25" y="323.79" width="1.88" height="28.71" fill="#a3cdf1" stroke="#76a3cf" stroke-width="0.4"/>
<rect x="57.12" y="324.37" width="1.88" height="28.13" fill="#a3cdf1" stroke="#76a3cf" stroke-width="0.4"/>
<rect x="59" y="324.37" width="1.88" height="28.13" fill="#a3cdf1" stroke="#76a3cf" stroke-width="0.4"/>
<rect x="60.88" y="324.96" width="1.88" height="27.54" fill="#a3cdf1" stroke="#76a3cf" stroke-width="0.4"/>
<rect x="62.75" y="326.13" width="1.88" height="26.37" fill="#a3cdf1" stroke="#76a3cf" stroke-width="0.4"/>
<rect x="64.62" y="326.72" width="1.88" height="25.78" fill="#a3cdf1" stroke="#76a3cf" stroke-width="0.4"/>
<rect x="66.5" y="327.3" width="1.88" height="25.2" fill="#a3cdf1" stroke="#76a3cf" stroke-width="0.4"/>
<rect x="68.38" y="327.89" width="1.88" height="24.61" fill="#a3cdf1" stroke="#76a3cf" stroke-width="0.4"/>
<rect x="70.25" y="329.06" width="1.88" height="23.44" fill="#a3cdf1" stroke="#76a3cf" stroke-width="0.4"/>
<rect x="72.12" y="329.06" width="1.88" height="23.44" fill="#a3cdf1" stroke="#76a3cf" stroke-width="0.4"/>
<rect x="74" y="332.58" width="1.88" height="19.92" fill="#a3cdf1" stroke="#76a3cf" stroke-width="0.4"/>
<rect x="75.88" y="333.16" width="1.88" height="19.34" fill="#a3cdf1" stroke="#76a3cf" stroke-width="0.4"/>
<rect x="77.75" y="333.16" width="1.88" height="19.34" fill="#a3cdf1" stroke="#76a3cf" stroke-width="0.4"/>
<rect x="79.62" y="333.16" width="1.88" height="19.34" fill="#a3cdf1" stroke="#76a3cf" stroke-width="0.4"/>
<rect x="81.5" y="333.16" width="1.88" height="19.34" fill="#a3cdf1" stroke="#76a3cf" stroke-width="0.4"/>
<rect x="83.38" y="336.68" width="1.88" height="15.82" fill="#a3cdf1" stroke="#76a3cf" stroke-width="0.4"/>
<rect x="85.25" y="339.61" width="1.88" height="12.89" fill="#a3cdf1" stroke="#76a3cf" stroke-width="0.4"/>
<rect x="87.12" y="340.19" width="1.88" height="12.31" fill="#a3cdf1" stroke="#76a3cf" stroke-width="0.4"/>
<rect x="89" y="340.78" width="1.88" height="11.72" fill="#a3cdf1" stroke="#76a3cf" stroke-width="0.4"/>
<rect x="90.88" y="341.37" width="1.88" height="11.13" fill="#a3cdf1" stroke="#76a3cf" stroke-width="0.4"/>
<rect x="92.75" y="344.88" width="1.88" height="7.62" fill="#f9dcbb" stroke="#ecb887" stroke-width="0.35"/>
<rect x="94.62" y="345.47" width="1.88" height="7.03" fill="#f9dcbb" stroke="#ecb887" stroke-width="0.35"/>
<rect x="96.5" y="346.05" width="1.88" height="6.45" fill="#f9dcbb" stroke="#ecb887" stroke-width="0.35"/>
<rect x="98.38" y="346.64" width="1.88" height="5.86" fill="#f9dcbb" stroke="#ecb887" stroke-width="0.35"/>
<rect x="100.25" y="347.23" width="1.88" height="5.27" fill="#f9dcbb" stroke="#ecb887" stroke-width="0.35"/>
<rect x="102.12" y="347.23" width="1.88" height="5.27" fill="#f9dcbb" stroke="#ecb887" stroke-width="0.35"/>
<rect x="104" y="347.81" width="1.88" height="4.69" fill="#f9dcbb" stroke="#ecb887" stroke-width="0.35"/>
<rect x="105.88" y="347.81" width="1.88" height="4.69" fill="#f9dcbb" stroke="#ecb887" stroke-width="0.35"/>
<rect x="107.75" y="348.4" width="1.88" height="4.1" fill="#f9dcbb" stroke="#ecb887" stroke-width="0.35"/>
<rect x="109.62" y="348.4" width="1.88" height="4.1" fill="#f9dcbb" stroke="#ecb887" stroke-width="0.35"/>
<rect x="111.5" y="348.98" width="1.88" height="3.52" fill="#f9dcbb" stroke="#ecb887" stroke-width="0.35"/>
<rect x="113.38" y="348.98" width="1.88" height="3.52" fill="#f9dcbb" stroke="#ecb887" stroke-width="0.35"/>
<rect x="115.25" y="349.57" width="1.88" height="2.93" fill="#f9dcbb" stroke="#ecb887" stroke-width="0.35"/>
<rect x="117.12" y="349.57" width="1.88" height="2.93" fill="#f9dcbb" stroke="#ecb887" stroke-width="0.35"/>
<rect x="119" y="350.16" width="1.88" height="2.34" fill="#f9dcbb" stroke="#ecb887" stroke-width="0.35"/>
<rect x="120.88" y="350.74" width="1.88" height="1.76" fill="#f9dcbb" stroke="#ecb887" stroke-width="0.35"/>
<rect x="122.75" y="350.74" width="1.88" height="1.76" fill="#f9dcbb" stroke="#ecb887" stroke-width="0.35"/>
<rect x="124.62" y="351.33" width="1.88" height="1.17" fill="#f9dcbb" stroke="#ecb887" stroke-width="0.35"/>
<rect x="126.5" y="351.33" width="1.88" height="1.17" fill="#f9dcbb" stroke="#ecb887" stroke-width="0.35"/>
<rect x="128.38" y="351.33" width="1.88" height="1.17" fill="#f9dcbb" stroke="#ecb887" stroke-width="0.35"/>
<rect x="130.25" y="351.33" width="1.88" height="1.17" fill="#f9dcbb" stroke="#ecb887" stroke-width="0.35"/>
<rect x="132.12" y="351.62" width="1.88" height="0.88" fill="#f9dcbb" stroke="#ecb887" stroke-width="0.35"/>
<rect x="134" y="351.62" width="1.88" height="0.88" fill="#f9dcbb" stroke="#ecb887" stroke-width="0.35"/>
<rect x="135.88" y="351.91" width="1.88" height="0.59" fill="#f9dcbb" stroke="#ecb887" stroke-width="0.35"/>
<rect x="137.75" y="351.91" width="1.88" height="0.59" fill="#f9dcbb" stroke="#ecb887" stroke-width="0.35"/>
<rect x="139.62" y="351.91" width="1.88" height="0.59" fill="#f9dcbb" stroke="#ecb887" stroke-width="0.35"/>
<line x1="36.4" y1="293.3" x2="36.4" y2="353" stroke="#2b2f3a" stroke-width="1"/>
<line x1="36" y1="352.7" x2="141.8" y2="352.7" stroke="#2b2f3a" stroke-width="1.1"/>
<line x1="92.75" y1="293.4" x2="92.75" y2="352.5" stroke="#222" stroke-width="1" stroke-dasharray="1.3 1.3"/>
<text x="64.8" y="296.9" font-size="5.3" text-anchor="middle" fill="#3a3a3a" stroke="#3a3a3a" stroke-width="0.05">30/56</text>
<text x="64.8" y="303.2" font-size="5.3" text-anchor="middle" fill="#3a3a3a" stroke="#3a3a3a" stroke-width="0.05">(54%)</text>
<text x="119.8" y="296.9" font-size="5.3" text-anchor="middle" fill="#3a3a3a" stroke="#3a3a3a" stroke-width="0.05">26/56</text>
<text x="119.8" y="303.2" font-size="5.3" text-anchor="middle" fill="#3a3a3a" stroke="#3a3a3a" stroke-width="0.05">(46%)</text>
<text x="88.95" y="361.9" font-size="7.8" text-anchor="middle" fill="#2a2a2a" stroke="#2a2a2a" stroke-width="0.2" textLength="50.5" lengthAdjust="spacingAndGlyphs"><tspan font-style="italic" stroke-width="0.15">SF3B1</tspan> mutations</text>
<text x="12" y="412" font-size="7.4" text-anchor="middle" fill="#111" stroke="#111" stroke-width="0.1" font-weight="bold" font-style="italic" textLength="31.1" lengthAdjust="spacingAndGlyphs" transform="rotate(-90 12 412)">NOTCH1</text>
<text x="25.5" y="410.8" font-size="7" text-anchor="middle" fill="#333" stroke="#333" stroke-width="0.22" textLength="25.5" lengthAdjust="spacingAndGlyphs" transform="rotate(-90 25.5 410.8)">VAF (%)</text>
<text x="34.8" y="441.4" font-size="5.6" text-anchor="end" fill="#1e1e1e" stroke="#1e1e1e" stroke-width="0.28" textLength="2.8" lengthAdjust="spacingAndGlyphs">0</text>
<text x="34.8" y="435.54" font-size="5.6" text-anchor="end" fill="#1e1e1e" stroke="#1e1e1e" stroke-width="0.28" textLength="5.6" lengthAdjust="spacingAndGlyphs">10</text>
<text x="34.8" y="429.68" font-size="5.6" text-anchor="end" fill="#1e1e1e" stroke="#1e1e1e" stroke-width="0.28" textLength="5.6" lengthAdjust="spacingAndGlyphs">20</text>
<text x="34.8" y="423.82" font-size="5.6" text-anchor="end" fill="#1e1e1e" stroke="#1e1e1e" stroke-width="0.28" textLength="5.6" lengthAdjust="spacingAndGlyphs">30</text>
<text x="34.8" y="417.96" font-size="5.6" text-anchor="end" fill="#1e1e1e" stroke="#1e1e1e" stroke-width="0.28" textLength="5.6" lengthAdjust="spacingAndGlyphs">40</text>
<text x="34.8" y="412.1" font-size="5.6" text-anchor="end" fill="#1e1e1e" stroke="#1e1e1e" stroke-width="0.28" textLength="5.6" lengthAdjust="spacingAndGlyphs">50</text>
<text x="34.8" y="406.24" font-size="5.6" text-anchor="end" fill="#1e1e1e" stroke="#1e1e1e" stroke-width="0.28" textLength="5.6" lengthAdjust="spacingAndGlyphs">60</text>
<text x="34.8" y="400.38" font-size="5.6" text-anchor="end" fill="#1e1e1e" stroke="#1e1e1e" stroke-width="0.28" textLength="5.6" lengthAdjust="spacingAndGlyphs">70</text>
<text x="34.8" y="394.52" font-size="5.6" text-anchor="end" fill="#1e1e1e" stroke="#1e1e1e" stroke-width="0.28" textLength="5.6" lengthAdjust="spacingAndGlyphs">80</text>
<text x="34.8" y="388.66" font-size="5.6" text-anchor="end" fill="#1e1e1e" stroke="#1e1e1e" stroke-width="0.28" textLength="5.6" lengthAdjust="spacingAndGlyphs">90</text>
<text x="34.8" y="382.8" font-size="5.6" text-anchor="end" fill="#1e1e1e" stroke="#1e1e1e" stroke-width="0.28" textLength="8.5" lengthAdjust="spacingAndGlyphs">100</text>
<polygon points="36.5,439.4 36.6,405.41 37.5,406.88 46,408.93 56,411.27 66,413.62 74.5,415.37 76.5,416.25 78.5,418.3 80.5,419.77 84.75,425.04 91,431.2 93.8,432.95 93.8,439.4" fill="#6aa5df"/>
<polygon points="93.8,439.4 93.8,432.95 96,433.83 105,435 115,436.47 125,437.64 133,438.35 141.5,438.93 141.5,439.4" fill="#e9b677"/>
<line x1="36.4" y1="380.2" x2="36.4" y2="439.9" stroke="#2b2f3a" stroke-width="1"/>
<line x1="36" y1="439.6" x2="141.8" y2="439.6" stroke="#2b2f3a" stroke-width="1.1"/>
<line x1="93.8" y1="380.3" x2="93.8" y2="439.4" stroke="#222" stroke-width="1" stroke-dasharray="1.3 1.3"/>
<text x="66" y="383.8" font-size="5.3" text-anchor="middle" fill="#3a3a3a" stroke="#3a3a3a" stroke-width="0.05">57/104</text>
<text x="66" y="390.1" font-size="5.3" text-anchor="middle" fill="#3a3a3a" stroke="#3a3a3a" stroke-width="0.05">(55%)</text>
<text x="120.5" y="383.8" font-size="5.3" text-anchor="middle" fill="#3a3a3a" stroke="#3a3a3a" stroke-width="0.05">47/104</text>
<text x="120.5" y="390.1" font-size="5.3" text-anchor="middle" fill="#3a3a3a" stroke="#3a3a3a" stroke-width="0.05">(45%)</text>
<text x="89" y="448.8" font-size="7.8" text-anchor="middle" fill="#2a2a2a" stroke="#2a2a2a" stroke-width="0.2" textLength="55.8" lengthAdjust="spacingAndGlyphs"><tspan font-style="italic" stroke-width="0.15">NOTCH1</tspan> mutations</text>
<text x="417.8" y="63.5" font-size="7" text-anchor="middle" fill="#2a2a2a" stroke="#2a2a2a" stroke-width="0.3" textLength="46" lengthAdjust="spacingAndGlyphs" transform="rotate(-90 417.8 63.5)">Frequency (%)</text>
<text x="427.6" y="94.2" font-size="5.6" text-anchor="end" fill="#1e1e1e" stroke="#1e1e1e" stroke-width="0.28" textLength="2.7" lengthAdjust="spacingAndGlyphs">0</text>
<text x="427.6" y="88.33" font-size="5.6" text-anchor="end" fill="#1e1e1e" stroke="#1e1e1e" stroke-width="0.28" textLength="5.4" lengthAdjust="spacingAndGlyphs">10</text>
<text x="427.6" y="82.46" font-size="5.6" text-anchor="end" fill="#1e1e1e" stroke="#1e1e1e" stroke-width="0.28" textLength="5.4" lengthAdjust="spacingAndGlyphs">20</text>
<text x="427.6" y="76.59" font-size="5.6" text-anchor="end" fill="#1e1e1e" stroke="#1e1e1e" stroke-width="0.28" textLength="5.4" lengthAdjust="spacingAndGlyphs">30</text>
<text x="427.6" y="70.72" font-size="5.6" text-anchor="end" fill="#1e1e1e" stroke="#1e1e1e" stroke-width="0.28" textLength="5.4" lengthAdjust="spacingAndGlyphs">40</text>
<text x="427.6" y="64.85" font-size="5.6" text-anchor="end" fill="#1e1e1e" stroke="#1e1e1e" stroke-width="0.28" textLength="5.4" lengthAdjust="spacingAndGlyphs">50</text>
<text x="427.6" y="58.98" font-size="5.6" text-anchor="end" fill="#1e1e1e" stroke="#1e1e1e" stroke-width="0.28" textLength="5.4" lengthAdjust="spacingAndGlyphs">60</text>
<text x="427.6" y="53.11" font-size="5.6" text-anchor="end" fill="#1e1e1e" stroke="#1e1e1e" stroke-width="0.28" textLength="5.4" lengthAdjust="spacingAndGlyphs">70</text>
<text x="427.6" y="47.24" font-size="5.6" text-anchor="end" fill="#1e1e1e" stroke="#1e1e1e" stroke-width="0.28" textLength="5.4" lengthAdjust="spacingAndGlyphs">80</text>
<text x="427.6" y="41.37" font-size="5.6" text-anchor="end" fill="#1e1e1e" stroke="#1e1e1e" stroke-width="0.28" textLength="5.4" lengthAdjust="spacingAndGlyphs">90</text>
<text x="427.6" y="35.5" font-size="5.6" text-anchor="end" fill="#1e1e1e" stroke="#1e1e1e" stroke-width="0.28" textLength="8.1" lengthAdjust="spacingAndGlyphs">100</text>
<rect x="433.7" y="51.11" width="5.4" height="41.09" fill="#64a843"/>
<rect x="439.1" y="52.28" width="5.4" height="39.92" fill="#b5d49d"/>
<rect x="449.3" y="84.57" width="5.4" height="7.63" fill="#efb47f"/>
<rect x="454.7" y="81.63" width="5.4" height="10.57" fill="#f8d3a6"/>
<rect x="465.5" y="88.09" width="5.4" height="4.11" fill="#9a0b2b"/>
<rect x="470.9" y="86.33" width="5.4" height="5.87" fill="#d78c93"/>
<rect x="481.6" y="88.09" width="5.4" height="4.11" fill="#3b1f57"/>
<line x1="429.5" y1="33" x2="429.5" y2="92.7" stroke="#2b2f3a" stroke-width="1"/>
<line x1="429" y1="92.4" x2="509.2" y2="92.4" stroke="#2b2f3a" stroke-width="1.1"/>
<circle cx="438.6" cy="97.2" r="2" fill="#5f9e4a"/>
<path d="M452.75 98.75L456.65 98.75L454.7 95.25Z" fill="#efc5a0"/>
<path d="M468.7 95.31L472.9 95.31L470.8 99.09Z" fill="#8a1030"/>
<rect x="485.35" y="95.55" width="3.3" height="3.3" fill="#3a2050"/>
<circle cx="502.7" cy="97.2" r="2" fill="#2c4470"/>
<text x="417.8" y="149.5" font-size="7" text-anchor="middle" fill="#2a2a2a" stroke="#2a2a2a" stroke-width="0.3" textLength="46" lengthAdjust="spacingAndGlyphs" transform="rotate(-90 417.8 149.5)">Frequency (%)</text>
<text x="427.6" y="180.2" font-size="5.6" text-anchor="end" fill="#1e1e1e" stroke="#1e1e1e" stroke-width="0.28" textLength="2.7" lengthAdjust="spacingAndGlyphs">0</text>
<text x="427.6" y="174.33" font-size="5.6" text-anchor="end" fill="#1e1e1e" stroke="#1e1e1e" stroke-width="0.28" textLength="5.4" lengthAdjust="spacingAndGlyphs">10</text>
<text x="427.6" y="168.46" font-size="5.6" text-anchor="end" fill="#1e1e1e" stroke="#1e1e1e" stroke-width="0.28" textLength="5.4" lengthAdjust="spacingAndGlyphs">20</text>
<text x="427.6" y="162.59" font-size="5.6" text-anchor="end" fill="#1e1e1e" stroke="#1e1e1e" stroke-width="0.28" textLength="5.4" lengthAdjust="spacingAndGlyphs">30</text>
<text x="427.6" y="156.72" font-size="5.6" text-anchor="end" fill="#1e1e1e" stroke="#1e1e1e" stroke-width="0.28" textLength="5.4" lengthAdjust="spacingAndGlyphs">40</text>
<text x="427.6" y="150.85" font-size="5.6" text-anchor="end" fill="#1e1e1e" stroke="#1e1e1e" stroke-width="0.28" textLength="5.4" lengthAdjust="spacingAndGlyphs">50</text>
<text x="427.6" y="144.98" font-size="5.6" text-anchor="end" fill="#1e1e1e" stroke="#1e1e1e" stroke-width="0.28" textLength="5.4" lengthAdjust="spacingAndGlyphs">60</text>
<text x="427.6" y="139.11" font-size="5.6" text-anchor="end" fill="#1e1e1e" stroke="#1e1e1e" stroke-width="0.28" textLength="5.4" lengthAdjust="spacingAndGlyphs">70</text>
<text x="427.6" y="133.24" font-size="5.6" text-anchor="end" fill="#1e1e1e" stroke="#1e1e1e" stroke-width="0.28" textLength="5.4" lengthAdjust="spacingAndGlyphs">80</text>
<text x="427.6" y="127.37" font-size="5.6" text-anchor="end" fill="#1e1e1e" stroke="#1e1e1e" stroke-width="0.28" textLength="5.4" lengthAdjust="spacingAndGlyphs">90</text>
<text x="427.6" y="121.5" font-size="5.6" text-anchor="end" fill="#1e1e1e" stroke="#1e1e1e" stroke-width="0.28" textLength="8.1" lengthAdjust="spacingAndGlyphs">100</text>
<rect x="433.7" y="154.13" width="5.4" height="24.07" fill="#64a843"/>
<rect x="439.1" y="147.68" width="5.4" height="30.52" fill="#b5d49d"/>
<rect x="449.3" y="166.46" width="5.4" height="11.74" fill="#efb47f"/>
<rect x="454.7" y="160.59" width="5.4" height="17.61" fill="#f8d3a6"/>
<rect x="465.5" y="166.46" width="5.4" height="11.74" fill="#9a0b2b"/>
<rect x="481.6" y="171.74" width="5.4" height="6.46" fill="#3b1f57"/>
<rect x="487" y="169.98" width="5.4" height="8.22" fill="#9a87b0"/>
<line x1="429.5" y1="119" x2="429.5" y2="178.7" stroke="#2b2f3a" stroke-width="1"/>
<line x1="429" y1="178.4" x2="509.2" y2="178.4" stroke="#2b2f3a" stroke-width="1.1"/>
<circle cx="438.6" cy="183.2" r="2" fill="#5f9e4a"/>
<path d="M452.75 184.75L456.65 184.75L454.7 181.25Z" fill="#efc5a0"/>
<path d="M468.7 181.31L472.9 181.31L470.8 185.09Z" fill="#8a1030"/>
<rect x="485.35" y="181.55" width="3.3" height="3.3" fill="#3a2050"/>
<circle cx="502.7" cy="183.2" r="2" fill="#2c4470"/>
<text x="417.8" y="236.7" font-size="7" text-anchor="middle" fill="#2a2a2a" stroke="#2a2a2a" stroke-width="0.3" textLength="46" lengthAdjust="spacingAndGlyphs" transform="rotate(-90 417.8 236.7)">Frequency (%)</text>
<text x="427.6" y="267.4" font-size="5.6" text-anchor="end" fill="#1e1e1e" stroke="#1e1e1e" stroke-width="0.28" textLength="2.7" lengthAdjust="spacingAndGlyphs">0</text>
<text x="427.6" y="261.53" font-size="5.6" text-anchor="end" fill="#1e1e1e" stroke="#1e1e1e" stroke-width="0.28" textLength="5.4" lengthAdjust="spacingAndGlyphs">10</text>
<text x="427.6" y="255.66" font-size="5.6" text-anchor="end" fill="#1e1e1e" stroke="#1e1e1e" stroke-width="0.28" textLength="5.4" lengthAdjust="spacingAndGlyphs">20</text>
<text x="427.6" y="249.79" font-size="5.6" text-anchor="end" fill="#1e1e1e" stroke="#1e1e1e" stroke-width="0.28" textLength="5.4" lengthAdjust="spacingAndGlyphs">30</text>
<text x="427.6" y="243.92" font-size="5.6" text-anchor="end" fill="#1e1e1e" stroke="#1e1e1e" stroke-width="0.28" textLength="5.4" lengthAdjust="spacingAndGlyphs">40</text>
<text x="427.6" y="238.05" font-size="5.6" text-anchor="end" fill="#1e1e1e" stroke="#1e1e1e" stroke-width="0.28" textLength="5.4" lengthAdjust="spacingAndGlyphs">50</text>
<text x="427.6" y="232.18" font-size="5.6" text-anchor="end" fill="#1e1e1e" stroke="#1e1e1e" stroke-width="0.28" textLength="5.4" lengthAdjust="spacingAndGlyphs">60</text>
<text x="427.6" y="226.31" font-size="5.6" text-anchor="end" fill="#1e1e1e" stroke="#1e1e1e" stroke-width="0.28" textLength="5.4" lengthAdjust="spacingAndGlyphs">70</text>
<text x="427.6" y="220.44" font-size="5.6" text-anchor="end" fill="#1e1e1e" stroke="#1e1e1e" stroke-width="0.28" textLength="5.4" lengthAdjust="spacingAndGlyphs">80</text>
<text x="427.6" y="214.57" font-size="5.6" text-anchor="end" fill="#1e1e1e" stroke="#1e1e1e" stroke-width="0.28" textLength="5.4" lengthAdjust="spacingAndGlyphs">90</text>
<text x="427.6" y="208.7" font-size="5.6" text-anchor="end" fill="#1e1e1e" stroke="#1e1e1e" stroke-width="0.28" textLength="8.1" lengthAdjust="spacingAndGlyphs">100</text>
<rect x="449.3" y="219.61" width="5.4" height="45.79" fill="#efb47f"/>
<rect x="454.7" y="210.81" width="5.4" height="54.59" fill="#f8d3a6"/>
<rect x="465.5" y="253.66" width="5.4" height="11.74" fill="#9a0b2b"/>
<rect x="470.9" y="262.46" width="5.4" height="2.93" fill="#d78c93"/>
<line x1="429.5" y1="206.2" x2="429.5" y2="265.9" stroke="#2b2f3a" stroke-width="1"/>
<line x1="429" y1="265.6" x2="509.2" y2="265.6" stroke="#2b2f3a" stroke-width="1.1"/>
<circle cx="438.6" cy="270.4" r="2" fill="#5f9e4a"/>
<path d="M452.75 271.95L456.65 271.95L454.7 268.44Z" fill="#efc5a0"/>
<path d="M468.7 268.51L472.9 268.51L470.8 272.29Z" fill="#8a1030"/>
<rect x="485.35" y="268.75" width="3.3" height="3.3" fill="#3a2050"/>
<circle cx="502.7" cy="270.4" r="2" fill="#2c4470"/>
<text x="417.8" y="323.6" font-size="7" text-anchor="middle" fill="#2a2a2a" stroke="#2a2a2a" stroke-width="0.3" textLength="46" lengthAdjust="spacingAndGlyphs" transform="rotate(-90 417.8 323.6)">Frequency (%)</text>
<text x="427.6" y="354.3" font-size="5.6" text-anchor="end" fill="#1e1e1e" stroke="#1e1e1e" stroke-width="0.28" textLength="2.7" lengthAdjust="spacingAndGlyphs">0</text>
<text x="427.6" y="348.43" font-size="5.6" text-anchor="end" fill="#1e1e1e" stroke="#1e1e1e" stroke-width="0.28" textLength="5.4" lengthAdjust="spacingAndGlyphs">10</text>
<text x="427.6" y="342.56" font-size="5.6" text-anchor="end" fill="#1e1e1e" stroke="#1e1e1e" stroke-width="0.28" textLength="5.4" lengthAdjust="spacingAndGlyphs">20</text>
<text x="427.6" y="336.69" font-size="5.6" text-anchor="end" fill="#1e1e1e" stroke="#1e1e1e" stroke-width="0.28" textLength="5.4" lengthAdjust="spacingAndGlyphs">30</text>
<text x="427.6" y="330.82" font-size="5.6" text-anchor="end" fill="#1e1e1e" stroke="#1e1e1e" stroke-width="0.28" textLength="5.4" lengthAdjust="spacingAndGlyphs">40</text>
<text x="427.6" y="324.95" font-size="5.6" text-anchor="end" fill="#1e1e1e" stroke="#1e1e1e" stroke-width="0.28" textLength="5.4" lengthAdjust="spacingAndGlyphs">50</text>
<text x="427.6" y="319.08" font-size="5.6" text-anchor="end" fill="#1e1e1e" stroke="#1e1e1e" stroke-width="0.28" textLength="5.4" lengthAdjust="spacingAndGlyphs">60</text>
<text x="427.6" y="313.21" font-size="5.6" text-anchor="end" fill="#1e1e1e" stroke="#1e1e1e" stroke-width="0.28" textLength="5.4" lengthAdjust="spacingAndGlyphs">70</text>
<text x="427.6" y="307.34" font-size="5.6" text-anchor="end" fill="#1e1e1e" stroke="#1e1e1e" stroke-width="0.28" textLength="5.4" lengthAdjust="spacingAndGlyphs">80</text>
<text x="427.6" y="301.47" font-size="5.6" text-anchor="end" fill="#1e1e1e" stroke="#1e1e1e" stroke-width="0.28" textLength="5.4" lengthAdjust="spacingAndGlyphs">90</text>
<text x="427.6" y="295.6" font-size="5.6" text-anchor="end" fill="#1e1e1e" stroke="#1e1e1e" stroke-width="0.28" textLength="8.1" lengthAdjust="spacingAndGlyphs">100</text>
<rect x="433.7" y="297.12" width="5.4" height="55.18" fill="#64a843"/>
<rect x="439.1" y="295.36" width="5.4" height="56.94" fill="#b5d49d"/>
<rect x="449.3" y="351.13" width="5.4" height="1.17" fill="#efb47f"/>
<line x1="429.5" y1="293.1" x2="429.5" y2="352.8" stroke="#2b2f3a" stroke-width="1"/>
<line x1="429" y1="352.5" x2="509.2" y2="352.5" stroke="#2b2f3a" stroke-width="1.1"/>
<circle cx="438.6" cy="357.3" r="2" fill="#5f9e4a"/>
<path d="M452.75 358.86L456.65 358.86L454.7 355.35Z" fill="#efc5a0"/>
<path d="M468.7 355.41L472.9 355.41L470.8 359.19Z" fill="#8a1030"/>
<rect x="485.35" y="355.65" width="3.3" height="3.3" fill="#3a2050"/>
<circle cx="502.7" cy="357.3" r="2" fill="#2c4470"/>
<text x="417.8" y="410.5" font-size="7" text-anchor="middle" fill="#2a2a2a" stroke="#2a2a2a" stroke-width="0.3" textLength="46" lengthAdjust="spacingAndGlyphs" transform="rotate(-90 417.8 410.5)">Frequency (%)</text>
<text x="427.6" y="441.2" font-size="5.6" text-anchor="end" fill="#1e1e1e" stroke="#1e1e1e" stroke-width="0.28" textLength="2.7" lengthAdjust="spacingAndGlyphs">0</text>
<text x="427.6" y="435.33" font-size="5.6" text-anchor="end" fill="#1e1e1e" stroke="#1e1e1e" stroke-width="0.28" textLength="5.4" lengthAdjust="spacingAndGlyphs">10</text>
<text x="427.6" y="429.46" font-size="5.6" text-anchor="end" fill="#1e1e1e" stroke="#1e1e1e" stroke-width="0.28" textLength="5.4" lengthAdjust="spacingAndGlyphs">20</text>
<text x="427.6" y="423.59" font-size="5.6" text-anchor="end" fill="#1e1e1e" stroke="#1e1e1e" stroke-width="0.28" textLength="5.4" lengthAdjust="spacingAndGlyphs">30</text>
<text x="427.6" y="417.72" font-size="5.6" text-anchor="end" fill="#1e1e1e" stroke="#1e1e1e" stroke-width="0.28" textLength="5.4" lengthAdjust="spacingAndGlyphs">40</text>
<text x="427.6" y="411.85" font-size="5.6" text-anchor="end" fill="#1e1e1e" stroke="#1e1e1e" stroke-width="0.28" textLength="5.4" lengthAdjust="spacingAndGlyphs">50</text>
<text x="427.6" y="405.98" font-size="5.6" text-anchor="end" fill="#1e1e1e" stroke="#1e1e1e" stroke-width="0.28" textLength="5.4" lengthAdjust="spacingAndGlyphs">60</text>
<text x="427.6" y="400.11" font-size="5.6" text-anchor="end" fill="#1e1e1e" stroke="#1e1e1e" stroke-width="0.28" textLength="5.4" lengthAdjust="spacingAndGlyphs">70</text>
<text x="427.6" y="394.24" font-size="5.6" text-anchor="end" fill="#1e1e1e" stroke="#1e1e1e" stroke-width="0.28" textLength="5.4" lengthAdjust="spacingAndGlyphs">80</text>
<text x="427.6" y="388.37" font-size="5.6" text-anchor="end" fill="#1e1e1e" stroke="#1e1e1e" stroke-width="0.28" textLength="5.4" lengthAdjust="spacingAndGlyphs">90</text>
<text x="427.6" y="382.5" font-size="5.6" text-anchor="end" fill="#1e1e1e" stroke="#1e1e1e" stroke-width="0.28" textLength="8.1" lengthAdjust="spacingAndGlyphs">100</text>
<rect x="449.3" y="398.11" width="5.4" height="41.09" fill="#efb47f"/>
<rect x="454.7" y="403.98" width="5.4" height="35.22" fill="#f8d3a6"/>
<rect x="465.5" y="430.39" width="5.4" height="8.8" fill="#9a0b2b"/>
<rect x="470.9" y="436.26" width="5.4" height="2.93" fill="#d78c93"/>
<rect x="497.5" y="432.16" width="5.4" height="7.04" fill="#3f5c92"/>
<rect x="502.9" y="421.59" width="5.4" height="17.61" fill="#93a6cf"/>
<line x1="429.5" y1="380" x2="429.5" y2="439.7" stroke="#2b2f3a" stroke-width="1"/>
<line x1="429" y1="439.4" x2="509.2" y2="439.4" stroke="#2b2f3a" stroke-width="1.1"/>
<circle cx="438.6" cy="444.2" r="2" fill="#5f9e4a"/>
<path d="M452.75 445.75L456.65 445.75L454.7 442.25Z" fill="#efc5a0"/>
<path d="M468.7 442.31L472.9 442.31L470.8 446.09Z" fill="#8a1030"/>
<rect x="485.35" y="442.55" width="3.3" height="3.3" fill="#3a2050"/>
<circle cx="502.7" cy="444.2" r="2" fill="#2c4470"/>
<rect x="174.6" y="39.3" width="194" height="23.1" fill="#edf4fb"/>
<rect x="174.6" y="62.4" width="194" height="25.2" fill="#fdf4ed"/>
<rect x="156" y="59.3" width="14" height="6.5" fill="#b3a56e"/>
<rect x="170" y="59.3" width="3" height="6.5" fill="#c1b27a"/>
<rect x="173" y="59.3" width="13" height="6.5" fill="#cbb983"/>
<rect x="186" y="59.3" width="6" height="6.5" fill="#ffffff"/>
<rect x="192" y="59.3" width="15" height="6.5" fill="#efc9a3"/>
<rect x="207" y="59.3" width="8" height="6.5" fill="#f6dcc3"/>
<rect x="215" y="59.3" width="110.5" height="6.5" fill="#c23c61"/>
<rect x="325.5" y="59.3" width="17.5" height="6.5" fill="#ffffff"/>
<rect x="343" y="59.3" width="20" height="6.5" fill="#a9c9e8"/>
<rect x="363" y="59.3" width="5" height="6.5" fill="#ffffff"/>
<rect x="368" y="59.3" width="16" height="6.5" fill="#84bd64"/>
<line x1="170" y1="59.3" x2="170" y2="65.8" stroke="#1a1a1a" stroke-width="0.9"/>
<line x1="173.3" y1="59.3" x2="173.3" y2="65.8" stroke="#1a1a1a" stroke-width="0.9"/>
<line x1="186" y1="59.3" x2="186" y2="65.8" stroke="#1a1a1a" stroke-width="0.9"/>
<line x1="228.5" y1="59.3" x2="228.5" y2="65.8" stroke="#1a1a1a" stroke-width="0.9"/>
<line x1="264.6" y1="59.3" x2="264.6" y2="65.8" stroke="#1a1a1a" stroke-width="0.9"/>
<line x1="286.2" y1="59.3" x2="286.2" y2="65.8" stroke="#1a1a1a" stroke-width="0.9"/>
<line x1="307" y1="59.3" x2="307" y2="65.8" stroke="#1a1a1a" stroke-width="0.9"/>
<line x1="333.3" y1="59.3" x2="333.3" y2="65.8" stroke="#1a1a1a" stroke-width="0.9"/>
<line x1="348.5" y1="59.3" x2="348.5" y2="65.8" stroke="#1a1a1a" stroke-width="0.9"/>
<line x1="367.8" y1="59.3" x2="367.8" y2="65.8" stroke="#1a1a1a" stroke-width="0.9"/>
<rect x="156" y="59.3" width="228" height="6.5" fill="none" stroke="#1a1a1a" stroke-width="1.0"/>
<text x="163.8" y="64.5" font-size="5" text-anchor="middle" fill="#333" stroke="#333" stroke-width="0.22">2</text>
<text x="202.3" y="64.5" font-size="5" text-anchor="middle" fill="#333" stroke="#333" stroke-width="0.22">4</text>
<text x="282" y="64.5" font-size="5" text-anchor="middle" fill="#333" stroke="#333" stroke-width="0.22">6</text>
<text x="320.5" y="64.5" font-size="5" text-anchor="middle" fill="#333" stroke="#333" stroke-width="0.22">8</text>
<text x="358" y="64.5" font-size="5" text-anchor="middle" fill="#333" stroke="#333" stroke-width="0.22">10</text>
<text x="386" y="64.8" font-size="5.8" text-anchor="start" fill="#333" stroke="#333" stroke-width="0.1" font-weight="bold" font-style="italic" textLength="16" lengthAdjust="spacingAndGlyphs">393 aa</text>
<path d="M207.75 52.82L211.25 52.82L209.5 55.98Z" fill="#9c0f2e"/>
<circle cx="231.3" cy="54.8" r="1.55" fill="#65a93f"/>
<circle cx="234.4" cy="54.8" r="1.55" fill="#65a93f"/>
<circle cx="237.5" cy="54.8" r="1.55" fill="#65a93f"/>
<circle cx="247.5" cy="54.8" r="1.55" fill="#65a93f"/>
<circle cx="253.6" cy="54.8" r="1.55" fill="#65a93f"/>
<circle cx="256.7" cy="54.8" r="1.55" fill="#65a93f"/>
<circle cx="259.7" cy="54.8" r="1.55" fill="#65a93f"/>
<circle cx="262.6" cy="54.8" r="1.55" fill="#65a93f"/>
<circle cx="267.9" cy="54.8" r="1.55" fill="#65a93f"/>
<circle cx="273" cy="54.8" r="1.55" fill="#65a93f"/>
<circle cx="286.3" cy="54.8" r="1.55" fill="#65a93f"/>
<circle cx="293.6" cy="54.8" r="1.55" fill="#65a93f"/>
<circle cx="296.6" cy="54.8" r="1.55" fill="#65a93f"/>
<circle cx="299.6" cy="54.8" r="1.55" fill="#65a93f"/>
<circle cx="308.2" cy="54.8" r="1.55" fill="#65a93f"/>
<circle cx="231.3" cy="51.4" r="1.55" fill="#65a93f"/>
<circle cx="264.8" cy="54.8" r="1.55" fill="#283f7a"/>
<circle cx="268.5" cy="51.6" r="1.55" fill="#65a93f"/>
<circle cx="269" cy="48.6" r="1.55" fill="#65a93f"/>
<path d="M276.75 53.22L280.25 53.22L278.5 56.38Z" fill="#9c0f2e"/>
<path d="M279.45 56.2L282.55 56.2L281 53.4Z" fill="#efb27c"/>
<path d="M302.3 55.97L304.9 55.97L303.6 53.63Z" fill="#e8c0a0"/>
<circle cx="297.9" cy="51.7" r="1.55" fill="#65a93f"/>
<circle cx="300.9" cy="51.7" r="1.55" fill="#65a93f"/>
<circle cx="300.9" cy="48.6" r="1.55" fill="#65a93f"/>
<circle cx="300.9" cy="45.5" r="1.55" fill="#65a93f"/>
<circle cx="300.9" cy="42.4" r="1.55" fill="#65a93f"/>
<path d="M319 56.45L322 56.45L320.5 53.75Z" fill="#f0c090"/>
<path d="M319 52.95L322 52.95L320.5 50.25Z" fill="#f0c090"/>
<path d="M319.3 50.08L321.7 50.08L320.5 47.92Z" fill="#f4d0b0"/>
<rect x="346.5" y="53.3" width="3" height="3" fill="#3d1c55"/>
<path d="M207.75 67.22L211.25 67.22L209.5 70.38Z" fill="#9c0f2e"/>
<path d="M207.75 70.52L211.25 70.52L209.5 73.67Z" fill="#9c0f2e"/>
<path d="M207.75 73.82L211.25 73.82L209.5 76.97Z" fill="#9c0f2e"/>
<circle cx="220.3" cy="70" r="1.55" fill="#65a93f"/>
<circle cx="244.6" cy="70" r="1.55" fill="#65a93f"/>
<circle cx="247.5" cy="70" r="1.55" fill="#65a93f"/>
<circle cx="250.5" cy="70" r="1.55" fill="#65a93f"/>
<circle cx="253.5" cy="70" r="1.55" fill="#65a93f"/>
<circle cx="256.7" cy="70" r="1.55" fill="#65a93f"/>
<circle cx="281" cy="70" r="1.55" fill="#65a93f"/>
<circle cx="284.3" cy="70" r="1.55" fill="#65a93f"/>
<circle cx="292.8" cy="70" r="1.55" fill="#65a93f"/>
<circle cx="296.6" cy="70" r="1.55" fill="#65a93f"/>
<circle cx="299.2" cy="70" r="1.55" fill="#65a93f"/>
<circle cx="301.5" cy="70" r="1.55" fill="#65a93f"/>
<circle cx="256.7" cy="73.2" r="1.55" fill="#65a93f"/>
<path d="M276.15 71.31L279.05 71.31L277.6 68.69Z" fill="#f3c6a0"/>
<path d="M276.15 74.61L279.05 74.61L277.6 71.99Z" fill="#f3c6a0"/>
<path d="M276.15 77.91L279.05 77.91L277.6 75.29Z" fill="#f3c6a0"/>
<path d="M276.15 81.21L279.05 81.21L277.6 78.59Z" fill="#f3c6a0"/>
<circle cx="284.3" cy="73.3" r="1.55" fill="#65a93f"/>
<circle cx="284.3" cy="76.6" r="1.55" fill="#65a93f"/>
<circle cx="300.8" cy="73.3" r="1.55" fill="#65a93f"/>
<circle cx="300.8" cy="76.6" r="1.55" fill="#65a93f"/>
<circle cx="300.8" cy="79.9" r="1.55" fill="#65a93f"/>
<circle cx="300.8" cy="83.2" r="1.55" fill="#65a93f"/>
<circle cx="297.6" cy="73.3" r="1.55" fill="#65a93f"/>
<path d="M315.05 71.39L318.15 71.39L316.6 68.61Z" fill="#efb27c"/>
<circle cx="319" cy="70" r="1.55" fill="#65a93f"/>
<rect x="208.8" y="92.7" width="20.4" height="6.8" fill="#c8bd8e"/>
<text x="219" y="98.12" font-size="5.6" text-anchor="middle" fill="#3a3a2a" stroke="#3a3a2a" stroke-width="0.12">TAD</text>
<rect x="238.8" y="92.7" width="20.4" height="6.8" fill="#f5dcc5"/>
<text x="249" y="98.12" font-size="5.6" text-anchor="middle" fill="#4a3a30" stroke="#4a3a30" stroke-width="0.12">P-rich</text>
<rect x="268.1" y="92.7" width="20.4" height="6.8" fill="#cd6d8b"/>
<text x="278.3" y="98.12" font-size="5.6" text-anchor="middle" fill="#6a1030" stroke="#6a1030" stroke-width="0.12">DBD</text>
<rect x="297.5" y="92.7" width="20.4" height="6.8" fill="#b6d0ea"/>
<text x="307.7" y="98.12" font-size="5.6" text-anchor="middle" fill="#2a3a5a" stroke="#2a3a5a" stroke-width="0.12">TET</text>
<rect x="327" y="92.7" width="20.4" height="6.8" fill="#a9cf8f"/>
<text x="337.2" y="98.12" font-size="5.6" text-anchor="middle" fill="#2f5a20" stroke="#2f5a20" stroke-width="0.12">REG</text>
<rect x="155.3" y="128.1" width="228.3" height="22.5" fill="#edf4fb"/>
<rect x="155.3" y="150.6" width="228.3" height="27" fill="#fdf4ed"/>
<rect x="155.3" y="147.3" width="228.9" height="6.5" fill="#2c2c3e"/>
<rect x="156.6" y="148.1" width="1" height="4.9" fill="#c9c5e4"/>
<rect x="158.2" y="148.1" width="1.3" height="4.9" fill="#c9c5e4"/>
<rect x="160.5" y="148.1" width="1.3" height="4.9" fill="#c9c5e4"/>
<rect x="163" y="148.1" width="1.4" height="4.9" fill="#c9c5e4"/>
<rect x="165.2" y="148.1" width="1.5" height="4.9" fill="#c9c5e4"/>
<rect x="168.6" y="148.1" width="2.7" height="4.9" fill="#ffffff"/>
<rect x="172.8" y="148.1" width="2.4" height="4.9" fill="#ffffff"/>
<rect x="177.1" y="148.1" width="3.7" height="4.9" fill="#ffffff"/>
<rect x="182.8" y="148.1" width="2.4" height="4.9" fill="#ffffff"/>
<rect x="186.6" y="148.1" width="7.9" height="4.9" fill="#ffffff"/>
<rect x="196.3" y="148.1" width="2.3" height="4.9" fill="#ffffff"/>
<rect x="200.3" y="148.1" width="3.4" height="4.9" fill="#ffffff"/>
<rect x="204.9" y="148.1" width="2.3" height="4.9" fill="#ffffff"/>
<rect x="209.5" y="148.1" width="2.1" height="4.9" fill="#ffffff"/>
<rect x="212.9" y="148.1" width="1.4" height="4.9" fill="#ffffff"/>
<rect x="215.5" y="148.1" width="1.5" height="4.9" fill="#ffffff"/>
<rect x="218.7" y="148.1" width="2.1" height="4.9" fill="#ffffff"/>
<rect x="222.8" y="148.1" width="2" height="4.9" fill="#ffffff"/>
<rect x="226" y="148.1" width="7.5" height="4.9" fill="#ffffff"/>
<rect x="234.9" y="148.1" width="2" height="4.9" fill="#ffffff"/>
<rect x="238.9" y="148.1" width="2.1" height="4.9" fill="#ffffff"/>
<rect x="242.3" y="148.1" width="2" height="4.9" fill="#ffffff"/>
<rect x="246.3" y="148.1" width="2.1" height="4.9" fill="#ffffff"/>
<rect x="250.4" y="148.1" width="4" height="4.9" fill="#ffffff"/>
<rect x="256.4" y="148.1" width="1.4" height="4.9" fill="#ffffff"/>
<rect x="259.2" y="148.1" width="1.4" height="4.9" fill="#ffffff"/>
<rect x="261.8" y="148.1" width="7.4" height="4.9" fill="#ffffff"/>
<rect x="270.6" y="148.1" width="1.8" height="4.9" fill="#ffffff"/>
<rect x="274" y="148.1" width="2" height="4.9" fill="#ffffff"/>
<rect x="277.5" y="148.1" width="2" height="4.9" fill="#ffffff"/>
<rect x="281" y="148.1" width="2" height="4.9" fill="#ffffff"/>
<rect x="284.6" y="148.1" width="2" height="4.9" fill="#ffffff"/>
<rect x="288.2" y="148.1" width="2" height="4.9" fill="#ffffff"/>
<rect x="291.8" y="148.1" width="2" height="4.9" fill="#ffffff"/>
<rect x="295.4" y="148.1" width="2" height="4.9" fill="#ffffff"/>
<rect x="299" y="148.1" width="2" height="4.9" fill="#ffffff"/>
<rect x="346.4" y="148.1" width="1.8" height="4.9" fill="#ffffff"/>
<rect x="349.8" y="148.1" width="1.8" height="4.9" fill="#ffffff"/>
<rect x="353.2" y="148.1" width="1.8" height="4.9" fill="#ffffff"/>
<rect x="302.6" y="148.1" width="1.8" height="4.9" fill="#a8c9ea"/>
<rect x="306" y="148.1" width="1.8" height="4.9" fill="#a8c9ea"/>
<rect x="309.3" y="148.1" width="1.9" height="4.9" fill="#a8c9ea"/>
<rect x="312.8" y="148.1" width="1.8" height="4.9" fill="#a8c9ea"/>
<rect x="316.2" y="148.1" width="1.8" height="4.9" fill="#a8c9ea"/>
<rect x="319.6" y="148.1" width="1.8" height="4.9" fill="#a8c9ea"/>
<rect x="323" y="148.1" width="1.8" height="4.9" fill="#a8c9ea"/>
<rect x="326.4" y="148.1" width="1.8" height="4.9" fill="#a8c9ea"/>
<rect x="329.8" y="148.1" width="1.8" height="4.9" fill="#a8c9ea"/>
<rect x="333.2" y="148.1" width="11.6" height="4.9" fill="#a8c9ea"/>
<rect x="356.6" y="148.1" width="1.8" height="4.9" fill="#f2d2b0"/>
<rect x="360" y="148.1" width="1.8" height="4.9" fill="#f2d2b0"/>
<rect x="363.4" y="148.1" width="1.8" height="4.9" fill="#f2d2b0"/>
<rect x="366.8" y="148.1" width="1.8" height="4.9" fill="#f2d2b0"/>
<rect x="370.2" y="148.1" width="1.8" height="4.9" fill="#f2d2b0"/>
<rect x="373.6" y="148.1" width="1.8" height="4.9" fill="#f2d2b0"/>
<rect x="376.4" y="148.1" width="4" height="4.9" fill="#f2d2b0"/>
<rect x="380.6" y="148.1" width="2.5" height="4.9" fill="#7a2a2a"/>
<text x="190.5" y="152.4" font-size="5" text-anchor="middle" fill="#222" stroke="#222" stroke-width="0.22">10</text>
<text x="229.8" y="152.4" font-size="5" text-anchor="middle" fill="#222" stroke="#222" stroke-width="0.22">20</text>
<text x="265.5" y="152.4" font-size="5" text-anchor="middle" fill="#222" stroke="#222" stroke-width="0.22">30</text>
<text x="339" y="152.4" font-size="5" text-anchor="middle" fill="#222" stroke="#222" stroke-width="0.22">50</text>
<text x="378.4" y="152.4" font-size="5" text-anchor="middle" fill="#222" stroke="#222" stroke-width="0.22">62</text>
<text x="385.6" y="152.4" font-size="5.8" text-anchor="start" fill="#333" stroke="#333" stroke-width="0.1" font-weight="bold" font-style="italic" textLength="18.7" lengthAdjust="spacingAndGlyphs">3056 aa</text>
<path d="M164.75 143.7L167.85 143.7L166.3 140.91Z" fill="#efb27c"/>
<circle cx="169.4" cy="142.3" r="1.55" fill="#65a93f"/>
<circle cx="180" cy="142.3" r="1.55" fill="#65a93f"/>
<path d="M181.45 143.7L184.55 143.7L183 140.91Z" fill="#efb27c"/>
<path d="M186.25 136.23L189.75 136.23L188 139.38Z" fill="#9c0f2e"/>
<path d="M186.25 140.73L189.75 140.73L188 143.88Z" fill="#9c0f2e"/>
<path d="M189.05 143.7L192.15 143.7L190.6 140.91Z" fill="#efb27c"/>
<path d="M200.75 140.73L204.25 140.73L202.5 143.88Z" fill="#9c0f2e"/>
<path d="M223.55 140.73L227.05 140.73L225.3 143.88Z" fill="#9c0f2e"/>
<rect x="226.3" y="141.1" width="2.4" height="2.4" fill="#3d1c55"/>
<path d="M262.45 140.73L265.95 140.73L264.2 143.88Z" fill="#9c0f2e"/>
<rect x="272.4" y="141.1" width="2.4" height="2.4" fill="#3d1c55"/>
<rect x="274.8" y="141.1" width="2.4" height="2.4" fill="#3d1c55"/>
<path d="M287.75 140.73L291.25 140.73L289.5 143.88Z" fill="#9c0f2e"/>
<path d="M290.25 140.73L293.75 140.73L292 143.88Z" fill="#9c0f2e"/>
<rect x="293.3" y="141.1" width="2.4" height="2.4" fill="#3d1c55"/>
<circle cx="301" cy="142.3" r="1.55" fill="#65a93f"/>
<circle cx="303.8" cy="142.3" r="1.55" fill="#65a93f"/>
<circle cx="306.5" cy="142.3" r="1.55" fill="#65a93f"/>
<path d="M308.45 143.7L311.55 143.7L310 140.91Z" fill="#efb27c"/>
<path d="M310.75 143.7L313.85 143.7L312.3 140.91Z" fill="#efb27c"/>
<path d="M313.05 140.73L316.55 140.73L314.8 143.88Z" fill="#9c0f2e"/>
<path d="M322.95 143.7L326.05 143.7L324.5 140.91Z" fill="#efb27c"/>
<rect x="325.8" y="141.1" width="2.4" height="2.4" fill="#3d1c55"/>
<circle cx="329.5" cy="142.3" r="1.55" fill="#65a93f"/>
<circle cx="332.3" cy="142.3" r="1.55" fill="#65a93f"/>
<circle cx="335" cy="142.3" r="1.55" fill="#65a93f"/>
<circle cx="336.2" cy="139.5" r="1.55" fill="#65a93f"/>
<circle cx="337.8" cy="142.3" r="1.55" fill="#65a93f"/>
<circle cx="340.5" cy="142.3" r="1.55" fill="#65a93f"/>
<circle cx="343.2" cy="142.3" r="1.55" fill="#65a93f"/>
<path d="M336.15 136.33L339.65 136.33L337.9 139.47Z" fill="#9c0f2e"/>
<circle cx="359.2" cy="142.3" r="1.55" fill="#65a93f"/>
<circle cx="361.7" cy="142.3" r="1.55" fill="#65a93f"/>
<circle cx="368.6" cy="142.3" r="1.55" fill="#65a93f"/>
<circle cx="371.3" cy="142.3" r="1.55" fill="#65a93f"/>
<circle cx="374" cy="142.3" r="1.55" fill="#65a93f"/>
<circle cx="376.7" cy="142.3" r="1.55" fill="#65a93f"/>
<circle cx="379.4" cy="142.3" r="1.55" fill="#65a93f"/>
<circle cx="372.5" cy="139.1" r="1.55" fill="#65a93f"/>
<circle cx="375.3" cy="139.1" r="1.55" fill="#65a93f"/>
<path d="M199.45 159.8L202.55 159.8L201 157Z" fill="#efb27c"/>
<circle cx="207.2" cy="158.4" r="1.55" fill="#65a93f"/>
<path d="M217.55 159.8L220.65 159.8L219.1 157Z" fill="#efb27c"/>
<path d="M233.75 159.8L236.85 159.8L235.3 157Z" fill="#efb27c"/>
<circle cx="270.3" cy="158.4" r="1.55" fill="#65a93f"/>
<circle cx="273" cy="158.4" r="1.55" fill="#65a93f"/>
<rect x="315.3" y="157.2" width="2.4" height="2.4" fill="#3d1c55"/>
<path d="M340.85 159.8L343.95 159.8L342.4 157Z" fill="#efb27c"/>
<circle cx="353.6" cy="158.4" r="1.55" fill="#65a93f"/>
<circle cx="369.3" cy="158.4" r="1.55" fill="#65a93f"/>
<rect x="370.6" y="157.2" width="2.4" height="2.4" fill="#3d1c55"/>
<circle cx="375.4" cy="158.4" r="1.55" fill="#65a93f"/>
<circle cx="381.4" cy="158.4" r="1.55" fill="#65a93f"/>
<rect x="190.8" y="179.8" width="20.2" height="6.4" fill="#c4c1e0"/>
<text x="200.9" y="185.02" font-size="5.6" text-anchor="middle" fill="#2a2a4a" stroke="#2a2a4a" stroke-width="0.12">TAN</text>
<rect x="220.2" y="179.8" width="28.5" height="6.4" fill="#8fa798"/>
<text x="234.45" y="185.02" font-size="5.6" text-anchor="middle" fill="#1f2f25" stroke="#1f2f25" stroke-width="0.12" textLength="25.5" lengthAdjust="spacingAndGlyphs">Leu zipper</text>
<rect x="257.4" y="179.8" width="20.7" height="6.4" fill="#d7c99c"/>
<text x="267.75" y="185.02" font-size="5.6" text-anchor="middle" fill="#3a3020" stroke="#3a3020" stroke-width="0.12" textLength="17.7" lengthAdjust="spacingAndGlyphs">P-rich</text>
<rect x="286.7" y="179.8" width="20.2" height="6.4" fill="#aecbeb"/>
<text x="296.8" y="185.02" font-size="5.6" text-anchor="middle" fill="#203050" stroke="#203050" stroke-width="0.12">FAT</text>
<rect x="316.5" y="179.8" width="19.3" height="6.4" fill="#f2d6bb"/>
<text x="326.15" y="185.02" font-size="5.6" text-anchor="middle" fill="#4a3020" stroke="#4a3020" stroke-width="0.12">PI3K</text>
<rect x="345" y="179.8" width="20.6" height="6.4" fill="#a64545"/>
<text x="355.3" y="185.02" font-size="5.6" text-anchor="middle" fill="#f0b0b0" stroke="#f0b0b0" stroke-width="0.12">FATC</text>
<rect x="157" y="215" width="227" height="23.1" fill="#edf4fb"/>
<rect x="157" y="238.1" width="227" height="23.4" fill="#fdf4ed"/>
<rect x="157" y="235" width="11.2" height="6.3" fill="#ffffff"/>
<rect x="168.2" y="235" width="24.6" height="6.3" fill="#f0c59a"/>
<rect x="192.8" y="235" width="28" height="6.3" fill="#ffffff"/>
<rect x="220.8" y="235" width="23.4" height="6.3" fill="#f0c59a"/>
<rect x="244.2" y="235" width="7.8" height="6.3" fill="#ffffff"/>
<rect x="252" y="235" width="24.5" height="6.3" fill="#f0c59a"/>
<rect x="276.5" y="235" width="46.7" height="6.3" fill="#ffffff"/>
<rect x="323.2" y="235" width="32.4" height="6.3" fill="#b5a465"/>
<rect x="355.6" y="235" width="10.7" height="6.3" fill="#ffffff"/>
<rect x="366.3" y="235" width="13.5" height="6.3" fill="#4f70a8"/>
<rect x="379.8" y="235" width="4.2" height="6.3" fill="#ffffff"/>
<line x1="264.2" y1="235" x2="264.2" y2="241.3" stroke="#1a1a1a" stroke-width="0.9"/>
<line x1="276.5" y1="235" x2="276.5" y2="241.3" stroke="#1a1a1a" stroke-width="0.9"/>
<line x1="286.5" y1="235" x2="286.5" y2="241.3" stroke="#1a1a1a" stroke-width="0.9"/>
<line x1="292.7" y1="235" x2="292.7" y2="241.3" stroke="#1a1a1a" stroke-width="0.9"/>
<line x1="323.2" y1="235" x2="323.2" y2="241.3" stroke="#1a1a1a" stroke-width="0.9"/>
<line x1="355.6" y1="235" x2="355.6" y2="241.3" stroke="#1a1a1a" stroke-width="0.9"/>
<line x1="360.6" y1="235" x2="360.6" y2="241.3" stroke="#1a1a1a" stroke-width="0.9"/>
<line x1="379.8" y1="235" x2="379.8" y2="241.3" stroke="#1a1a1a" stroke-width="0.9"/>
<rect x="157" y="235" width="227" height="6.3" fill="none" stroke="#1a1a1a" stroke-width="1.0"/>
<text x="210.8" y="240.1" font-size="5" text-anchor="middle" fill="#222" stroke="#222" stroke-width="0.22">2</text>
<text x="281.6" y="240.1" font-size="5" text-anchor="middle" fill="#222" stroke="#222" stroke-width="0.22">4</text>
<text x="307.7" y="240.1" font-size="5" text-anchor="middle" fill="#222" stroke="#222" stroke-width="0.22">6</text>
<text x="358.1" y="240.1" font-size="5" text-anchor="middle" fill="#222" stroke="#222" stroke-width="0.22">8</text>
<text x="386" y="240.1" font-size="5.8" text-anchor="start" fill="#333" stroke="#333" stroke-width="0.1" font-weight="bold" font-style="italic" textLength="16" lengthAdjust="spacingAndGlyphs">604 aa</text>
<path d="M316.1 231.73L319.5 231.73L317.8 228.67Z" fill="#eeab72"/>
<path d="M329 231.73L332.4 231.73L330.7 228.67Z" fill="#eeab72"/>
<path d="M357.85 228.23L361.35 228.23L359.6 231.38Z" fill="#9c0f2e"/>
<path d="M361.3 231.73L364.7 231.73L363 228.67Z" fill="#eeab72"/>
<path d="M364 231.73L367.4 231.73L365.7 228.67Z" fill="#eeab72"/>
<path d="M362.3 228.13L365.7 228.13L364 225.07Z" fill="#eeab72"/>
<path d="M362.45 217.83L365.95 217.83L364.2 220.97Z" fill="#9c0f2e"/>
<path d="M362.3 224.53L365.7 224.53L364 221.47Z" fill="#eeab72"/>
<path d="M260.2 248.33L263.6 248.33L261.9 245.27Z" fill="#eeab72"/>
<path d="M316.1 248.33L319.5 248.33L317.8 245.27Z" fill="#eeab72"/>
<path d="M347.8 248.33L351.2 248.33L349.5 245.27Z" fill="#eeab72"/>
<path d="M316.1 252.03L319.5 252.03L317.8 248.97Z" fill="#eeab72"/>
<path d="M347.8 252.03L351.2 252.03L349.5 248.97Z" fill="#eeab72"/>
<path d="M316.1 255.73L319.5 255.73L317.8 252.67Z" fill="#eeab72"/>
<path d="M347.8 255.73L351.2 255.73L349.5 252.67Z" fill="#eeab72"/>
<path d="M320.1 248.33L323.5 248.33L321.8 245.27Z" fill="#eeab72"/>
<path d="M359.9 248.33L363.3 248.33L361.6 245.27Z" fill="#eeab72"/>
<path d="M362.1 248.33L365.5 248.33L363.8 245.27Z" fill="#eeab72"/>
<path d="M364.3 248.33L367.7 248.33L366 245.27Z" fill="#eeab72"/>
<path d="M360.8 251.73L364.2 251.73L362.5 248.67Z" fill="#eeab72"/>
<path d="M363.2 251.73L366.6 251.73L364.9 248.67Z" fill="#eeab72"/>
<path d="M366.45 245.23L369.95 245.23L368.2 248.38Z" fill="#9c0f2e"/>
<path d="M378.7 248.33L382.1 248.33L380.4 245.27Z" fill="#eeab72"/>
<rect x="233.5" y="266.7" width="30.3" height="6.4" fill="#f0d3b3"/>
<text x="248.65" y="271.92" font-size="5.6" text-anchor="middle" fill="#4a3020" stroke="#4a3020" stroke-width="0.12" textLength="27" lengthAdjust="spacingAndGlyphs">BIR repeats</text>
<rect x="273" y="266.7" width="20.7" height="6.4" fill="#c7b98b"/>
<text x="283.35" y="271.92" font-size="5.6" text-anchor="middle" fill="#3a3020" stroke="#3a3020" stroke-width="0.12">Card</text>
<rect x="302.8" y="266.7" width="20.6" height="6.4" fill="#8c9cc6"/>
<text x="313.1" y="271.92" font-size="5.6" text-anchor="middle" fill="#1f2a50" stroke="#1f2a50" stroke-width="0.12">Ring</text>
<rect x="259.6" y="286.6" width="29.5" height="36.7" fill="#eef5fc"/>
<rect x="259.6" y="323.3" width="29.5" height="24.2" fill="#fdf4ed"/>
<rect x="300.4" y="286.6" width="13.1" height="36.7" fill="#ebf3fb"/>
<rect x="300.4" y="323.3" width="13.1" height="24.2" fill="#fdf4ed"/>
<rect x="155.4" y="320.3" width="30.6" height="6.1" fill="#ffffff"/>
<rect x="186" y="320.3" width="3" height="6.1" fill="#ffffff"/>
<rect x="189" y="320.3" width="4" height="6.1" fill="#c2b47c"/>
<rect x="193" y="320.3" width="14" height="6.1" fill="#b8aa70"/>
<rect x="207" y="320.3" width="13" height="6.1" fill="#9ea680"/>
<rect x="220" y="320.3" width="12" height="6.1" fill="#829e90"/>
<rect x="232" y="320.3" width="11" height="6.1" fill="#7f9b8d"/>
<rect x="243" y="320.3" width="3" height="6.1" fill="#ffffff"/>
<rect x="246" y="320.3" width="9.5" height="6.1" fill="#f0d3bb"/>
<rect x="255.5" y="320.3" width="27.7" height="6.1" fill="#b4d0ec"/>
<rect x="283.2" y="320.3" width="17.6" height="6.1" fill="#ffffff"/>
<rect x="300.8" y="320.3" width="13" height="6.1" fill="#b4d0ec"/>
<rect x="314" y="320.3" width="17" height="6.1" fill="#ffffff"/>
<rect x="331" y="320.3" width="15" height="6.1" fill="#9fc0e6"/>
<rect x="346" y="320.3" width="3.3" height="6.1" fill="#ffffff"/>
<rect x="349.3" y="320.3" width="14.7" height="6.1" fill="#a9c8e8"/>
<rect x="364" y="320.3" width="18.2" height="6.1" fill="#ffffff"/>
<line x1="158" y1="320.3" x2="158" y2="326.4" stroke="#1a1a1a" stroke-width="0.8"/>
<line x1="166.5" y1="320.3" x2="166.5" y2="326.4" stroke="#1a1a1a" stroke-width="0.8"/>
<line x1="171.3" y1="320.3" x2="171.3" y2="326.4" stroke="#1a1a1a" stroke-width="0.8"/>
<line x1="175.7" y1="320.3" x2="175.7" y2="326.4" stroke="#1a1a1a" stroke-width="0.8"/>
<line x1="181.6" y1="320.3" x2="181.6" y2="326.4" stroke="#1a1a1a" stroke-width="0.8"/>
<line x1="184.3" y1="320.3" x2="184.3" y2="326.4" stroke="#1a1a1a" stroke-width="0.8"/>
<line x1="188" y1="320.3" x2="188" y2="326.4" stroke="#1a1a1a" stroke-width="0.8"/>
<line x1="193" y1="320.3" x2="193" y2="326.4" stroke="#1a1a1a" stroke-width="0.8"/>
<line x1="207" y1="320.3" x2="207" y2="326.4" stroke="#1a1a1a" stroke-width="0.8"/>
<line x1="220" y1="320.3" x2="220" y2="326.4" stroke="#1a1a1a" stroke-width="0.8"/>
<line x1="232" y1="320.3" x2="232" y2="326.4" stroke="#1a1a1a" stroke-width="0.8"/>
<line x1="243" y1="320.3" x2="243" y2="326.4" stroke="#1a1a1a" stroke-width="0.8"/>
<line x1="246" y1="320.3" x2="246" y2="326.4" stroke="#1a1a1a" stroke-width="0.8"/>
<line x1="257" y1="320.3" x2="257" y2="326.4" stroke="#1a1a1a" stroke-width="0.8"/>
<line x1="277" y1="320.3" x2="277" y2="326.4" stroke="#1a1a1a" stroke-width="0.8"/>
<line x1="283.2" y1="320.3" x2="283.2" y2="326.4" stroke="#1a1a1a" stroke-width="0.8"/>
<line x1="285" y1="320.3" x2="285" y2="326.4" stroke="#1a1a1a" stroke-width="0.8"/>
<line x1="291.6" y1="320.3" x2="291.6" y2="326.4" stroke="#1a1a1a" stroke-width="0.8"/>
<line x1="300.8" y1="320.3" x2="300.8" y2="326.4" stroke="#1a1a1a" stroke-width="0.8"/>
<line x1="313.8" y1="320.3" x2="313.8" y2="326.4" stroke="#1a1a1a" stroke-width="0.8"/>
<line x1="326.5" y1="320.3" x2="326.5" y2="326.4" stroke="#1a1a1a" stroke-width="0.8"/>
<line x1="331" y1="320.3" x2="331" y2="326.4" stroke="#1a1a1a" stroke-width="0.8"/>
<line x1="338.3" y1="320.3" x2="338.3" y2="326.4" stroke="#1a1a1a" stroke-width="0.8"/>
<line x1="345.6" y1="320.3" x2="345.6" y2="326.4" stroke="#1a1a1a" stroke-width="0.8"/>
<line x1="349.3" y1="320.3" x2="349.3" y2="326.4" stroke="#1a1a1a" stroke-width="0.8"/>
<line x1="361.2" y1="320.3" x2="361.2" y2="326.4" stroke="#1a1a1a" stroke-width="0.8"/>
<line x1="364" y1="320.3" x2="364" y2="326.4" stroke="#1a1a1a" stroke-width="0.8"/>
<line x1="373" y1="320.3" x2="373" y2="326.4" stroke="#1a1a1a" stroke-width="0.8"/>
<rect x="155.4" y="320.3" width="226.8" height="6.1" fill="none" stroke="#1a1a1a" stroke-width="1.0"/>
<text x="162.3" y="325.2" font-size="5" text-anchor="middle" fill="#222" stroke="#222" stroke-width="0.22">2</text>
<text x="267.5" y="325.2" font-size="5" text-anchor="middle" fill="#222" stroke="#222" stroke-width="0.22">14</text>
<text x="307.5" y="325.2" font-size="5" text-anchor="middle" fill="#222" stroke="#222" stroke-width="0.22">18</text>
<text x="377.6" y="325.2" font-size="5" text-anchor="middle" fill="#222" stroke="#222" stroke-width="0.22">25</text>
<text x="385" y="325.8" font-size="5.8" text-anchor="start" fill="#333" stroke="#333" stroke-width="0.1" font-weight="bold" font-style="italic" textLength="17.3" lengthAdjust="spacingAndGlyphs">1304 aa</text>
<text x="260.8" y="289.6" font-size="6" text-anchor="start" fill="#222" stroke="#222" stroke-width="0.22" textLength="32.4" lengthAdjust="spacingAndGlyphs">p.K700E = 12</text>
<text x="261.9" y="352.2" font-size="6" text-anchor="start" fill="#222" stroke="#222" stroke-width="0.22" textLength="29.7" lengthAdjust="spacingAndGlyphs">p.K700E = 7</text>
<circle cx="261.3" cy="315.7" r="1.55" fill="#65a93f"/>
<circle cx="263.7" cy="315.7" r="1.55" fill="#65a93f"/>
<circle cx="266.1" cy="315.7" r="1.55" fill="#65a93f"/>
<circle cx="268.5" cy="315.7" r="1.55" fill="#65a93f"/>
<circle cx="270.9" cy="315.7" r="1.55" fill="#65a93f"/>
<circle cx="273.3" cy="315.7" r="1.55" fill="#65a93f"/>
<circle cx="275.7" cy="315.7" r="1.55" fill="#65a93f"/>
<circle cx="278.1" cy="315.7" r="1.55" fill="#65a93f"/>
<circle cx="280.5" cy="315.7" r="1.55" fill="#65a93f"/>
<circle cx="282.9" cy="315.7" r="1.55" fill="#65a93f"/>
<circle cx="285.3" cy="315.7" r="1.55" fill="#65a93f"/>
<circle cx="287.7" cy="315.7" r="1.55" fill="#65a93f"/>
<circle cx="277.9" cy="313.53" r="1.55" fill="#65a93f"/>
<circle cx="277.9" cy="311.36" r="1.55" fill="#65a93f"/>
<circle cx="277.9" cy="309.19" r="1.55" fill="#65a93f"/>
<circle cx="277.9" cy="307.02" r="1.55" fill="#65a93f"/>
<circle cx="277.9" cy="304.85" r="1.55" fill="#65a93f"/>
<circle cx="277.9" cy="302.68" r="1.55" fill="#65a93f"/>
<circle cx="277.9" cy="300.51" r="1.55" fill="#65a93f"/>
<circle cx="277.9" cy="298.34" r="1.55" fill="#65a93f"/>
<circle cx="277.9" cy="296.17" r="1.55" fill="#65a93f"/>
<circle cx="277.9" cy="294" r="1.55" fill="#65a93f"/>
<circle cx="277.9" cy="291.83" r="1.55" fill="#65a93f"/>
<circle cx="269.4" cy="313.53" r="1.55" fill="#65a93f"/>
<circle cx="269.4" cy="311.36" r="1.55" fill="#65a93f"/>
<circle cx="269.4" cy="309.19" r="1.55" fill="#65a93f"/>
<circle cx="269.4" cy="307.02" r="1.55" fill="#65a93f"/>
<circle cx="272.2" cy="313.53" r="1.55" fill="#65a93f"/>
<circle cx="282.5" cy="313.53" r="1.55" fill="#65a93f"/>
<circle cx="282.5" cy="311.36" r="1.55" fill="#65a93f"/>
<circle cx="282.5" cy="309.19" r="1.55" fill="#65a93f"/>
<circle cx="309.2" cy="315.7" r="1.55" fill="#65a93f"/>
<circle cx="311.6" cy="315.7" r="1.55" fill="#65a93f"/>
<circle cx="264.9" cy="330.8" r="1.55" fill="#65a93f"/>
<circle cx="267.3" cy="330.8" r="1.55" fill="#65a93f"/>
<circle cx="269.7" cy="330.8" r="1.55" fill="#65a93f"/>
<circle cx="272.1" cy="330.8" r="1.55" fill="#65a93f"/>
<circle cx="274.5" cy="330.8" r="1.55" fill="#65a93f"/>
<circle cx="276.9" cy="330.8" r="1.55" fill="#65a93f"/>
<circle cx="279.3" cy="330.8" r="1.55" fill="#65a93f"/>
<circle cx="281.7" cy="330.8" r="1.55" fill="#65a93f"/>
<circle cx="284.1" cy="330.8" r="1.55" fill="#65a93f"/>
<circle cx="286.5" cy="330.8" r="1.55" fill="#65a93f"/>
<circle cx="288.9" cy="330.8" r="1.55" fill="#65a93f"/>
<circle cx="291.3" cy="330.8" r="1.55" fill="#65a93f"/>
<circle cx="293.7" cy="330.8" r="1.55" fill="#65a93f"/>
<circle cx="268.6" cy="332.97" r="1.55" fill="#65a93f"/>
<circle cx="271.5" cy="332.97" r="1.55" fill="#65a93f"/>
<circle cx="271.5" cy="335.14" r="1.55" fill="#65a93f"/>
<circle cx="274.3" cy="332.97" r="1.55" fill="#65a93f"/>
<circle cx="274.3" cy="335.14" r="1.55" fill="#65a93f"/>
<circle cx="274.3" cy="337.31" r="1.55" fill="#65a93f"/>
<circle cx="277.9" cy="332.97" r="1.55" fill="#65a93f"/>
<circle cx="277.9" cy="335.14" r="1.55" fill="#65a93f"/>
<circle cx="277.9" cy="337.31" r="1.55" fill="#65a93f"/>
<circle cx="277.9" cy="339.48" r="1.55" fill="#65a93f"/>
<circle cx="277.9" cy="341.65" r="1.55" fill="#65a93f"/>
<circle cx="277.9" cy="343.82" r="1.55" fill="#65a93f"/>
<circle cx="281" cy="332.97" r="1.55" fill="#65a93f"/>
<circle cx="281" cy="335.14" r="1.55" fill="#65a93f"/>
<circle cx="284.8" cy="332.97" r="1.55" fill="#65a93f"/>
<circle cx="284.8" cy="335.14" r="1.55" fill="#65a93f"/>
<circle cx="284.8" cy="337.31" r="1.55" fill="#65a93f"/>
<circle cx="284.8" cy="339.48" r="1.55" fill="#65a93f"/>
<circle cx="284.8" cy="341.65" r="1.55" fill="#65a93f"/>
<circle cx="287.7" cy="332.97" r="1.55" fill="#65a93f"/>
<circle cx="287.7" cy="335.14" r="1.55" fill="#65a93f"/>
<circle cx="287.7" cy="337.31" r="1.55" fill="#65a93f"/>
<circle cx="291" cy="332.97" r="1.55" fill="#65a93f"/>
<circle cx="291" cy="335.14" r="1.55" fill="#65a93f"/>
<circle cx="305.6" cy="330.8" r="1.55" fill="#65a93f"/>
<circle cx="308" cy="330.8" r="1.55" fill="#65a93f"/>
<circle cx="310.4" cy="330.8" r="1.55" fill="#65a93f"/>
<rect x="205" y="354.2" width="19.8" height="6.2" fill="#c9bb8e"/>
<text x="214.9" y="359.32" font-size="5.6" text-anchor="middle" fill="#3a3020" stroke="#3a3020" stroke-width="0.12">U2AF</text>
<rect x="234.3" y="354.2" width="30.6" height="6.2" fill="#8fa798"/>
<text x="249.6" y="359.32" font-size="5.6" text-anchor="middle" fill="#1f2f25" stroke="#1f2f25" stroke-width="0.12" textLength="27.5" lengthAdjust="spacingAndGlyphs">PPP1R8 int</text>
<rect x="273.9" y="354.2" width="31" height="6.2" fill="#f1d3b6"/>
<text x="289.4" y="359.32" font-size="5.6" text-anchor="middle" fill="#4a3020" stroke="#4a3020" stroke-width="0.12" textLength="27.5" lengthAdjust="spacingAndGlyphs">SF3B14 int</text>
<rect x="314.2" y="354.2" width="37.5" height="6.2" fill="#b3cde9"/>
<text x="332.95" y="359.32" font-size="5.6" text-anchor="middle" fill="#1f2a40" stroke="#1f2a40" stroke-width="0.12" textLength="34.5" lengthAdjust="spacingAndGlyphs">Heat domains</text>
<rect x="270.4" y="373.6" width="16.5" height="37.8" fill="#f2f7fc"/>
<rect x="270.4" y="411.4" width="16.5" height="22.1" fill="#fdf6f0"/>
<rect x="310.3" y="373.6" width="38.6" height="37.8" fill="#eef5fc"/>
<rect x="310.3" y="411.4" width="38.6" height="22.1" fill="#fdf4ec"/>
<rect x="154.9" y="408.3" width="5.1" height="6.3" fill="#5e5646"/>
<rect x="160" y="408.3" width="104.3" height="6.3" fill="#cabb7c"/>
<rect x="264.3" y="408.3" width="3.5" height="6.3" fill="#ffffff"/>
<rect x="267.8" y="408.3" width="2.9" height="6.3" fill="#333333"/>
<rect x="270.7" y="408.3" width="10.3" height="6.3" fill="#8b7d69"/>
<rect x="281" y="408.3" width="2.3" height="6.3" fill="#333333"/>
<rect x="283.3" y="408.3" width="1.7" height="6.3" fill="#8b7d69"/>
<rect x="285" y="408.3" width="1.8" height="6.3" fill="#333"/>
<rect x="286.8" y="408.3" width="4" height="6.3" fill="#ffffff"/>
<rect x="290.8" y="408.3" width="2.3" height="6.3" fill="#333"/>
<rect x="293.1" y="408.3" width="3.5" height="6.3" fill="#ffffff"/>
<rect x="296.6" y="408.3" width="2.3" height="6.3" fill="#333"/>
<rect x="298.9" y="408.3" width="5.2" height="6.3" fill="#f1d3a9"/>
<rect x="304.1" y="408.3" width="1.7" height="6.3" fill="#333"/>
<rect x="305.8" y="408.3" width="2.3" height="6.3" fill="#f1d3a9"/>
<rect x="308.1" y="408.3" width="2.3" height="6.3" fill="#333"/>
<rect x="310.4" y="408.3" width="2.9" height="6.3" fill="#f1d3a9"/>
<rect x="313.3" y="408.3" width="1.7" height="6.3" fill="#333"/>
<rect x="315" y="408.3" width="4.1" height="6.3" fill="#f4e2c8"/>
<rect x="319.1" y="408.3" width="22.6" height="6.3" fill="#3d3d3d"/>
<rect x="341.7" y="408.3" width="7.3" height="6.3" fill="#6c7fa8"/>
<line x1="160.2" y1="408.3" x2="160.2" y2="414.6" stroke="#2a2818" stroke-width="1.2"/>
<line x1="165.7" y1="408.3" x2="165.7" y2="414.6" stroke="#2a2818" stroke-width="1.2"/>
<line x1="174.4" y1="408.3" x2="174.4" y2="414.6" stroke="#2a2818" stroke-width="1.2"/>
<line x1="176.6" y1="408.3" x2="176.6" y2="414.6" stroke="#2a2818" stroke-width="1.2"/>
<line x1="183.4" y1="408.3" x2="183.4" y2="414.6" stroke="#2a2818" stroke-width="1.2"/>
<line x1="188.6" y1="408.3" x2="188.6" y2="414.6" stroke="#2a2818" stroke-width="1.2"/>
<line x1="193.1" y1="408.3" x2="193.1" y2="414.6" stroke="#2a2818" stroke-width="1.2"/>
<line x1="196.9" y1="408.3" x2="196.9" y2="414.6" stroke="#2a2818" stroke-width="1.2"/>
<line x1="203.5" y1="408.3" x2="203.5" y2="414.6" stroke="#2a2818" stroke-width="1.2"/>
<line x1="205.4" y1="408.3" x2="205.4" y2="414.6" stroke="#2a2818" stroke-width="1.2"/>
<line x1="210.4" y1="408.3" x2="210.4" y2="414.6" stroke="#2a2818" stroke-width="1.2"/>
<line x1="213.8" y1="408.3" x2="213.8" y2="414.6" stroke="#2a2818" stroke-width="1.2"/>
<line x1="215.4" y1="408.3" x2="215.4" y2="414.6" stroke="#2a2818" stroke-width="1.2"/>
<line x1="220.4" y1="408.3" x2="220.4" y2="414.6" stroke="#2a2818" stroke-width="1.2"/>
<line x1="223.8" y1="408.3" x2="223.8" y2="414.6" stroke="#2a2818" stroke-width="1.2"/>
<line x1="228.4" y1="408.3" x2="228.4" y2="414.6" stroke="#2a2818" stroke-width="1.2"/>
<line x1="232.9" y1="408.3" x2="232.9" y2="414.6" stroke="#2a2818" stroke-width="1.2"/>
<line x1="237.5" y1="408.3" x2="237.5" y2="414.6" stroke="#2a2818" stroke-width="1.2"/>
<line x1="242.5" y1="408.3" x2="242.5" y2="414.6" stroke="#2a2818" stroke-width="1.2"/>
<line x1="246.4" y1="408.3" x2="246.4" y2="414.6" stroke="#2a2818" stroke-width="1.2"/>
<line x1="251.4" y1="408.3" x2="251.4" y2="414.6" stroke="#2a2818" stroke-width="1.2"/>
<line x1="255.6" y1="408.3" x2="255.6" y2="414.6" stroke="#2a2818" stroke-width="1.2"/>
<rect x="256.2" y="408.8" width="8.1" height="5.3" fill="#bdb388"/>
<text x="170" y="413.3" font-size="4.6" text-anchor="middle" fill="#2a2818" stroke="#2a2818" stroke-width="0.1">4</text>
<text x="260.3" y="413.3" font-size="4.6" text-anchor="middle" fill="#555040" stroke="#555040" stroke-width="0.05">26</text>
<rect x="154.9" y="408.3" width="194.1" height="6.3" fill="none" stroke="#1a1a1a" stroke-width="1.0"/>
<rect x="349" y="410.3" width="33.6" height="2.2" fill="#111"/>
<text x="375.2" y="408.3" font-size="5.6" text-anchor="middle" fill="#111" stroke="#111" stroke-width="0.22" textLength="14.6" lengthAdjust="spacingAndGlyphs">3'UTR</text>
<text x="384.7" y="414.5" font-size="5.8" text-anchor="start" fill="#333" stroke="#333" stroke-width="0.1" font-weight="bold" font-style="italic" textLength="19.1" lengthAdjust="spacingAndGlyphs">2555 aa</text>
<text x="343.6" y="377.4" font-size="5.8" text-anchor="end" fill="#222" stroke="#222" stroke-width="0.22" textLength="45" lengthAdjust="spacingAndGlyphs">p.P2514fs*4 = 44</text>
<line x1="343.9" y1="375.6" x2="345.6" y2="375.6" stroke="#e0a060" stroke-width="0.7"/>
<text x="343.6" y="439.6" font-size="5.8" text-anchor="end" fill="#222" stroke="#222" stroke-width="0.22" textLength="45" lengthAdjust="spacingAndGlyphs">p.P2514fs*4 = 22</text>
<line x1="343.9" y1="437.8" x2="345.6" y2="437.8" stroke="#e0a060" stroke-width="0.7"/>
<path d="M344.8 404.55L347.8 404.55L346.3 401.85Z" fill="#f0bb80"/>
<path d="M344.8 402.95L347.8 402.95L346.3 400.25Z" fill="#f0bb80"/>
<path d="M344.8 401.35L347.8 401.35L346.3 398.65Z" fill="#f0bb80"/>
<path d="M344.8 399.75L347.8 399.75L346.3 397.05Z" fill="#f0bb80"/>
<path d="M344.8 398.15L347.8 398.15L346.3 395.45Z" fill="#f0bb80"/>
<path d="M344.8 396.55L347.8 396.55L346.3 393.85Z" fill="#f0bb80"/>
<path d="M344.8 394.95L347.8 394.95L346.3 392.25Z" fill="#f0bb80"/>
<path d="M344.8 393.35L347.8 393.35L346.3 390.65Z" fill="#f0bb80"/>
<path d="M344.8 391.75L347.8 391.75L346.3 389.05Z" fill="#f0bb80"/>
<path d="M344.8 390.15L347.8 390.15L346.3 387.45Z" fill="#f0bb80"/>
<path d="M344.8 388.55L347.8 388.55L346.3 385.85Z" fill="#f0bb80"/>
<path d="M344.8 386.95L347.8 386.95L346.3 384.25Z" fill="#f0bb80"/>
<path d="M344.8 385.35L347.8 385.35L346.3 382.65Z" fill="#f0bb80"/>
<path d="M344.8 383.75L347.8 383.75L346.3 381.05Z" fill="#f0bb80"/>
<path d="M344.8 382.15L347.8 382.15L346.3 379.45Z" fill="#f0bb80"/>
<path d="M344.8 380.55L347.8 380.55L346.3 377.85Z" fill="#f0bb80"/>
<path d="M344.8 378.95L347.8 378.95L346.3 376.25Z" fill="#f0bb80"/>
<path d="M344.8 377.35L347.8 377.35L346.3 374.65Z" fill="#f0bb80"/>
<path d="M344.8 375.75L347.8 375.75L346.3 373.05Z" fill="#f0bb80"/>
<path d="M344.8 419.35L347.8 419.35L346.3 416.65Z" fill="#f0bb80"/>
<path d="M344.8 420.95L347.8 420.95L346.3 418.25Z" fill="#f0bb80"/>
<path d="M344.8 422.55L347.8 422.55L346.3 419.85Z" fill="#f0bb80"/>
<path d="M344.8 424.15L347.8 424.15L346.3 421.45Z" fill="#f0bb80"/>
<path d="M344.8 425.75L347.8 425.75L346.3 423.05Z" fill="#f0bb80"/>
<path d="M344.8 427.35L347.8 427.35L346.3 424.65Z" fill="#f0bb80"/>
<path d="M344.8 428.95L347.8 428.95L346.3 426.25Z" fill="#f0bb80"/>
<path d="M344.8 430.55L347.8 430.55L346.3 427.85Z" fill="#f0bb80"/>
<path d="M344.8 432.15L347.8 432.15L346.3 429.45Z" fill="#f0bb80"/>
<path d="M344.8 433.75L347.8 433.75L346.3 431.05Z" fill="#f0bb80"/>
<path d="M344.8 435.35L347.8 435.35L346.3 432.65Z" fill="#f0bb80"/>
<path d="M344.8 436.95L347.8 436.95L346.3 434.25Z" fill="#f0bb80"/>
<path d="M344.8 438.55L347.8 438.55L346.3 435.85Z" fill="#f0bb80"/>
<path d="M314.85 405.39L317.95 405.39L316.4 402.61Z" fill="#efb27c"/>
<path d="M331.8 401.98L335.4 401.98L333.6 405.22Z" fill="#9c0f2e"/>
<path d="M334.6 401.98L338.2 401.98L336.4 405.22Z" fill="#9c0f2e"/>
<path d="M337.4 401.98L341 401.98L339.2 405.22Z" fill="#9c0f2e"/>
<path d="M340.2 401.98L343.8 401.98L342 405.22Z" fill="#9c0f2e"/>
<path d="M343 401.98L346.6 401.98L344.8 405.22Z" fill="#9c0f2e"/>
<path d="M337.8 399.98L341.4 399.98L339.6 403.22Z" fill="#9c0f2e"/>
<path d="M340.6 399.98L344.2 399.98L342.4 403.22Z" fill="#9c0f2e"/>
<path d="M343.2 399.98L346.8 399.98L345 403.22Z" fill="#9c0f2e"/>
<path d="M343.7 398.45L346.7 398.45L345.2 401.15Z" fill="#9c0f2e"/>
<path d="M333.8 417.38L337.4 417.38L335.6 420.62Z" fill="#9c0f2e"/>
<path d="M336.5 417.38L340.1 417.38L338.3 420.62Z" fill="#9c0f2e"/>
<path d="M339.9 417.83L342.5 417.83L341.2 420.17Z" fill="#c04040"/>
<path d="M342.5 420.17L345.1 420.17L343.8 417.83Z" fill="#e8a070"/>
<circle cx="355.5" cy="403.8" r="1.7" fill="#283f7a"/>
<circle cx="355.5" cy="400.8" r="1.7" fill="#283f7a"/>
<circle cx="355.5" cy="397.8" r="1.7" fill="#283f7a"/>
<circle cx="358.6" cy="403.8" r="1.7" fill="#283f7a"/>
<circle cx="358.6" cy="400.8" r="1.7" fill="#283f7a"/>
<circle cx="358.6" cy="397.8" r="1.7" fill="#283f7a"/>
<circle cx="362.4" cy="403.8" r="1.7" fill="#283f7a"/>
<circle cx="355.5" cy="419.2" r="1.7" fill="#283f7a"/>
<circle cx="355.5" cy="421.95" r="1.7" fill="#283f7a"/>
<circle cx="355.5" cy="424.7" r="1.7" fill="#283f7a"/>
<circle cx="355.5" cy="427.45" r="1.7" fill="#283f7a"/>
<circle cx="355.5" cy="430.2" r="1.7" fill="#283f7a"/>
<circle cx="355.5" cy="432.95" r="1.7" fill="#283f7a"/>
<circle cx="355.5" cy="435.7" r="1.7" fill="#283f7a"/>
<circle cx="355.5" cy="438.45" r="1.7" fill="#283f7a"/>
<circle cx="358.6" cy="419.2" r="1.7" fill="#283f7a"/>
<circle cx="358.6" cy="421.95" r="1.7" fill="#283f7a"/>
<circle cx="358.6" cy="424.7" r="1.7" fill="#283f7a"/>
<circle cx="358.6" cy="427.45" r="1.7" fill="#283f7a"/>
<circle cx="358.6" cy="430.2" r="1.7" fill="#283f7a"/>
<circle cx="358.6" cy="432.95" r="1.7" fill="#283f7a"/>
<circle cx="361.8" cy="419.2" r="1.7" fill="#283f7a"/>
<circle cx="361.8" cy="421.95" r="1.7" fill="#283f7a"/>
<circle cx="361.8" cy="424.7" r="1.7" fill="#283f7a"/>
<circle cx="361.8" cy="427.45" r="1.7" fill="#283f7a"/>
<circle cx="364.6" cy="419.2" r="1.7" fill="#283f7a"/>
<circle cx="364.6" cy="421.95" r="1.7" fill="#283f7a"/>
<rect x="181.6" y="440.8" width="21.2" height="6.8" fill="#cbbd8c"/>
<text x="192.2" y="446.22" font-size="5.6" text-anchor="middle" fill="#3a3020" stroke="#3a3020" stroke-width="0.12">EGF</text>
<rect x="216.1" y="440.8" width="21.1" height="6.8" fill="#9fb6b1"/>
<text x="226.65" y="446.22" font-size="5.6" text-anchor="middle" fill="#1f2f2a" stroke="#1f2f2a" stroke-width="0.12">LNR</text>
<rect x="250.3" y="440.8" width="21.2" height="6.8" fill="#a89d8c"/>
<text x="260.9" y="446.22" font-size="5.6" text-anchor="middle" fill="#2a2a20" stroke="#2a2a20" stroke-width="0.12">HD</text>
<rect x="285" y="440.8" width="21.5" height="6.8" fill="#f2dcc4"/>
<text x="295.75" y="446.22" font-size="5.6" text-anchor="middle" fill="#4a3020" stroke="#4a3020" stroke-width="0.12">ANK</text>
<rect x="319.7" y="440.8" width="21.4" height="6.8" fill="#444444"/>
<text x="330.4" y="446.22" font-size="5.6" text-anchor="middle" fill="#aaaaaa" stroke="#aaaaaa" stroke-width="0.12">TAD</text>
<rect x="354.3" y="440.8" width="20.8" height="6.8" fill="#7d8fbf"/>
<text x="364.7" y="446.22" font-size="5.6" text-anchor="middle" fill="#d0d8f0" stroke="#d0d8f0" stroke-width="0.12">PEST</text>
<rect x="94" y="460.4" width="3.6" height="4" fill="#6d9fd0"/>
<text x="99.8" y="464.4" font-size="5.3" text-anchor="start" fill="#333" stroke="#333" stroke-width="0.22" textLength="39.2" lengthAdjust="spacingAndGlyphs">Clonal mutations</text>
<rect x="147.8" y="460.4" width="3.8" height="4" fill="#f0b27c"/>
<text x="153.8" y="464.4" font-size="5.3" text-anchor="start" fill="#333" stroke="#333" stroke-width="0.22" textLength="45" lengthAdjust="spacingAndGlyphs">Sublonal mutations</text>
<circle cx="339.9" cy="462.3" r="2.1" fill="#63a646"/>
<text x="342.8" y="464.3" font-size="5.6" text-anchor="start" fill="#2a2a3a" stroke="#2a2a3a" stroke-width="0.22" textLength="23.9" lengthAdjust="spacingAndGlyphs">Missense</text>
<path d="M372.3 463.89L376.5 463.89L374.4 460.11Z" fill="#efc5a0"/>
<text x="378.3" y="464.3" font-size="5.6" text-anchor="start" fill="#2a2a3a" stroke="#2a2a3a" stroke-width="0.22" textLength="11.7" lengthAdjust="spacingAndGlyphs">Indel</text>
<path d="M397.2 460.42L401.6 460.42L399.4 464.38Z" fill="#8a1030"/>
<text x="403" y="464.3" font-size="5.6" text-anchor="start" fill="#2a2a3a" stroke="#2a2a3a" stroke-width="0.22" textLength="24.3" lengthAdjust="spacingAndGlyphs">Nonsense</text>
<rect x="432.4" y="460.5" width="3.6" height="3.6" fill="#3a2050"/>
<text x="437.8" y="464.3" font-size="5.6" text-anchor="start" fill="#2a2a3a" stroke="#2a2a3a" stroke-width="0.22" textLength="18.9" lengthAdjust="spacingAndGlyphs">Splicing</text>
<circle cx="463.6" cy="462.3" r="2.1" fill="#2c3a6a"/>
<text x="467" y="464.3" font-size="5.6" text-anchor="start" fill="#2a2a3a" stroke="#2a2a3a" stroke-width="0.22" textLength="11.5" lengthAdjust="spacingAndGlyphs">UTR</text>
<rect x="0.6" y="0.5" width="518.8" height="470.8" fill="none" stroke="#000" stroke-width="1.25"/>
</svg></body></html>
